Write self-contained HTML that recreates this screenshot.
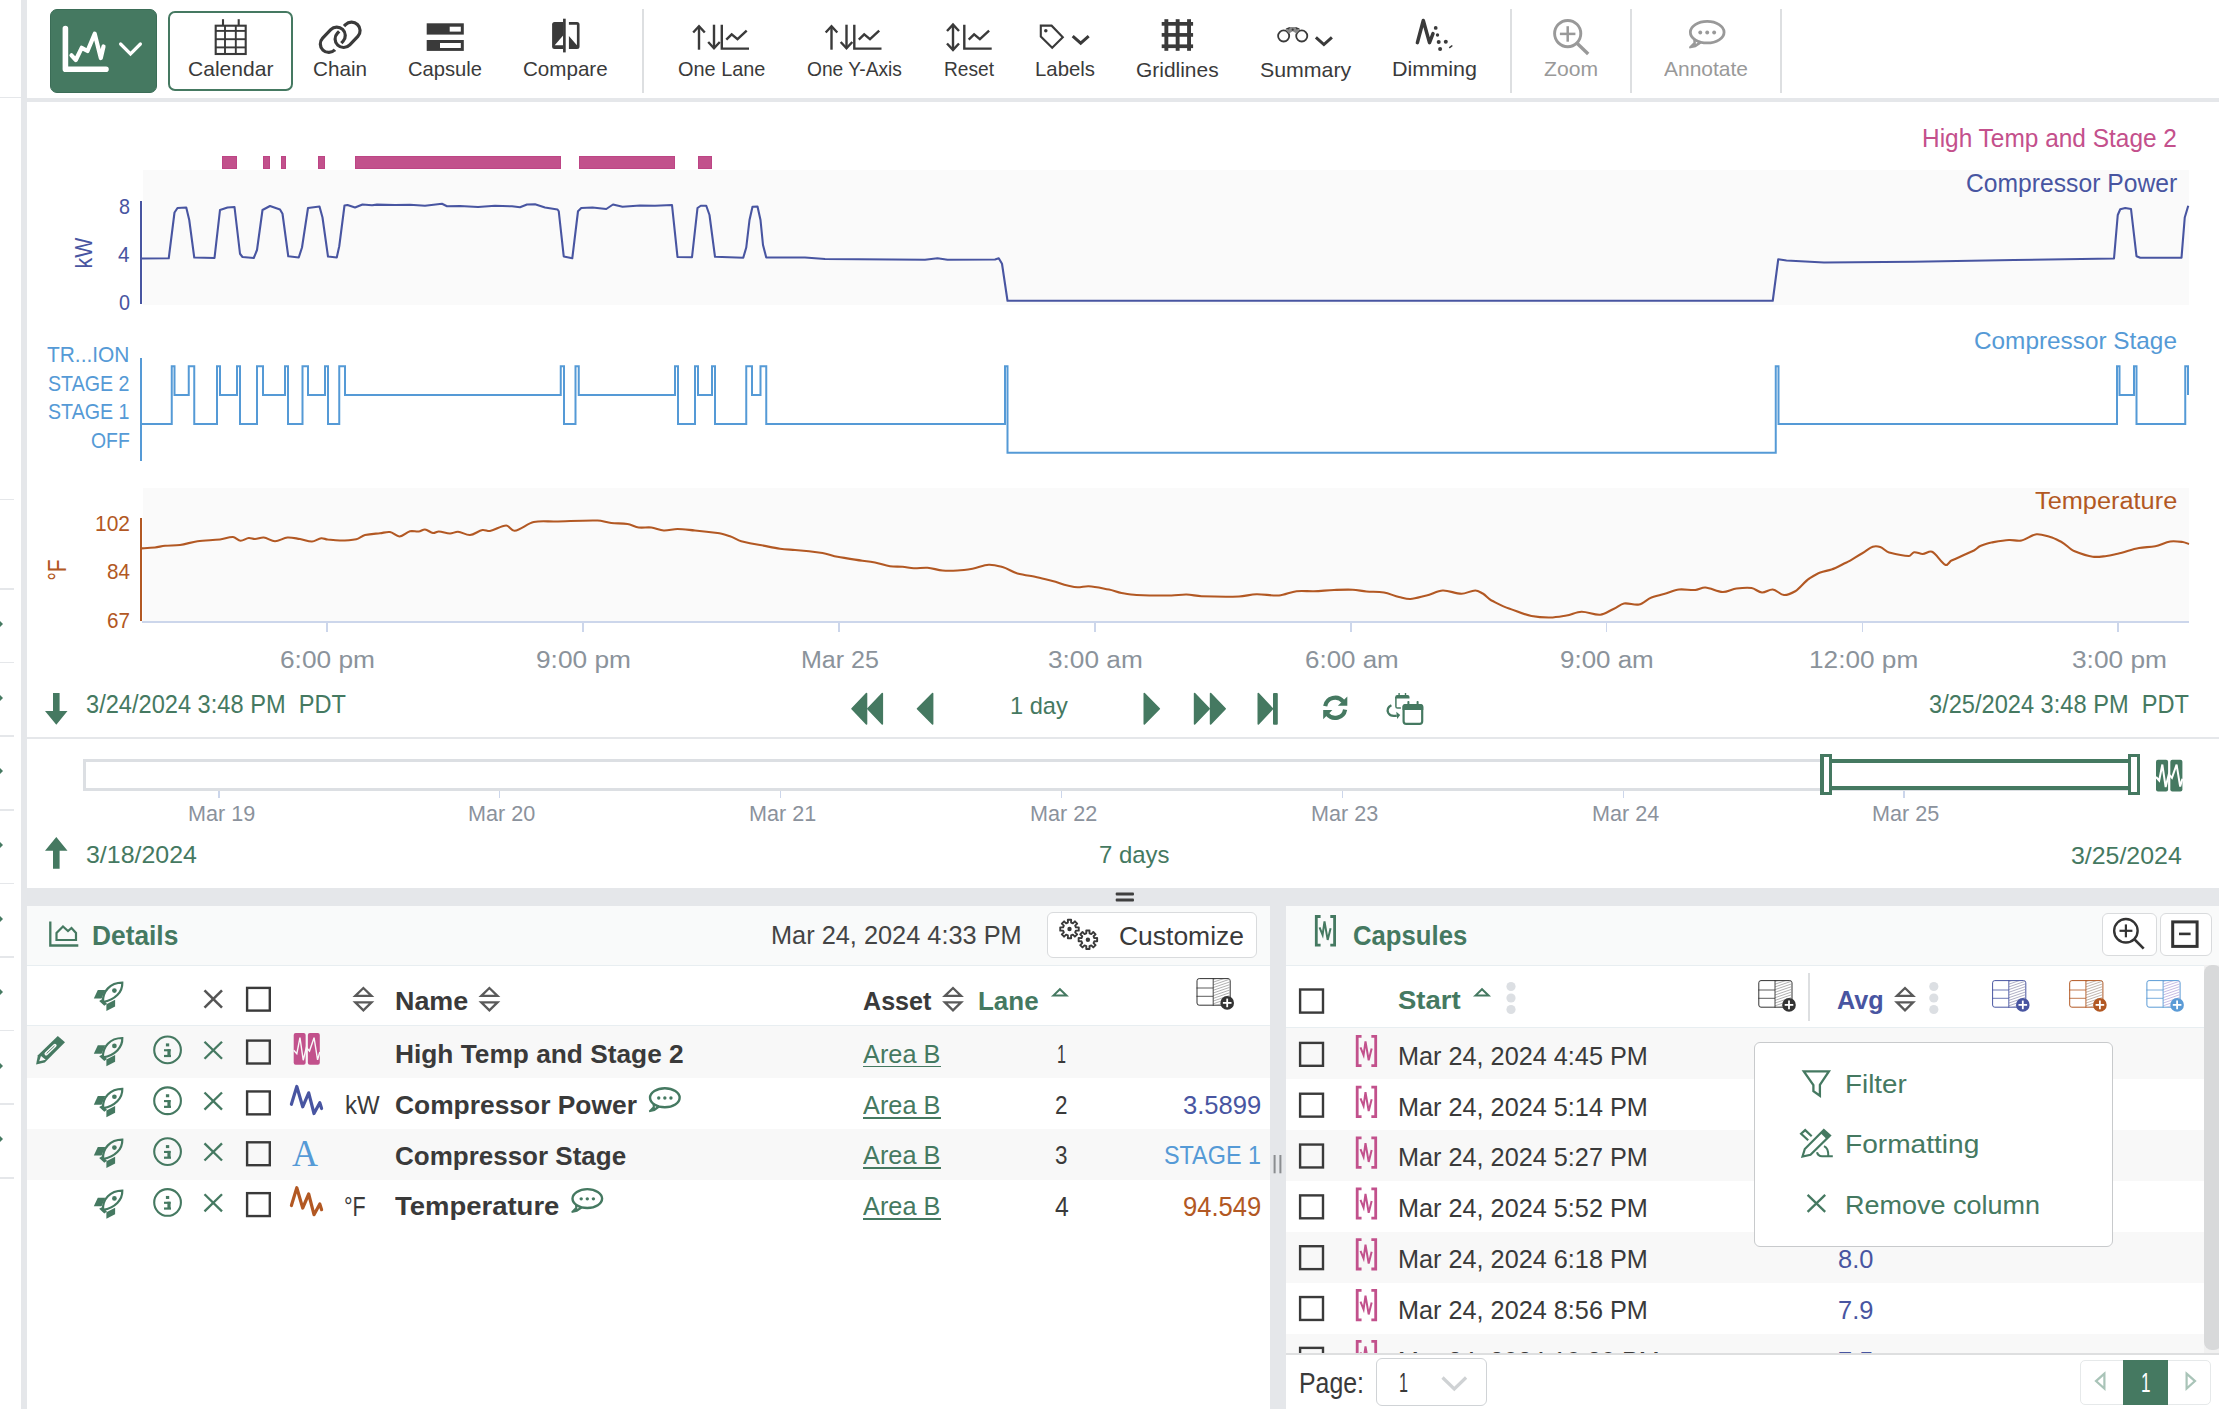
<!DOCTYPE html>
<html><head><meta charset="utf-8"><title>Trend</title>
<style>
html,body{margin:0;padding:0;background:#fff;overflow:hidden;}
body{width:2219px;height:1409px;position:relative;overflow:hidden;font-family:"Liberation Sans",sans-serif;}
.t{position:absolute;white-space:pre;line-height:1;transform-origin:0 0;display:block;}
.b{position:absolute;display:block;}
</style></head><body>
<div class="b" style="left:0.00px;top:96.60px;width:21.00px;height:1.80px;background:#e5e7ea;"></div>
<div class="b" style="left:0.00px;top:498.60px;width:14.00px;height:1.80px;background:#e5e7ea;"></div>
<div class="b" style="left:0.00px;top:588.10px;width:14.00px;height:1.80px;background:#e5e7ea;"></div>
<div class="b" style="left:0.00px;top:661.70px;width:14.00px;height:1.80px;background:#e5e7ea;"></div>
<div class="b" style="left:0.00px;top:735.30px;width:14.00px;height:1.80px;background:#e5e7ea;"></div>
<div class="b" style="left:0.00px;top:808.90px;width:14.00px;height:1.80px;background:#e5e7ea;"></div>
<div class="b" style="left:0.00px;top:882.50px;width:14.00px;height:1.80px;background:#e5e7ea;"></div>
<div class="b" style="left:0.00px;top:956.10px;width:14.00px;height:1.80px;background:#e5e7ea;"></div>
<div class="b" style="left:0.00px;top:1029.70px;width:14.00px;height:1.80px;background:#e5e7ea;"></div>
<div class="b" style="left:0.00px;top:1103.30px;width:14.00px;height:1.80px;background:#e5e7ea;"></div>
<div class="b" style="left:0.00px;top:1176.90px;width:14.00px;height:1.80px;background:#e5e7ea;"></div>
<svg class="b" style="left:0.00px;top:621.20px;" width="4.00" height="6.00" viewBox="0 0 4.00 6.00" preserveAspectRatio="none"><path d="M0 0 L3 3 L0 6 Z" fill="#457961"/></svg>
<svg class="b" style="left:0.00px;top:694.80px;" width="4.00" height="6.00" viewBox="0 0 4.00 6.00" preserveAspectRatio="none"><path d="M0 0 L3 3 L0 6 Z" fill="#457961"/></svg>
<svg class="b" style="left:0.00px;top:768.40px;" width="4.00" height="6.00" viewBox="0 0 4.00 6.00" preserveAspectRatio="none"><path d="M0 0 L3 3 L0 6 Z" fill="#457961"/></svg>
<svg class="b" style="left:0.00px;top:842.00px;" width="4.00" height="6.00" viewBox="0 0 4.00 6.00" preserveAspectRatio="none"><path d="M0 0 L3 3 L0 6 Z" fill="#457961"/></svg>
<svg class="b" style="left:0.00px;top:915.60px;" width="4.00" height="6.00" viewBox="0 0 4.00 6.00" preserveAspectRatio="none"><path d="M0 0 L3 3 L0 6 Z" fill="#457961"/></svg>
<svg class="b" style="left:0.00px;top:989.20px;" width="4.00" height="6.00" viewBox="0 0 4.00 6.00" preserveAspectRatio="none"><path d="M0 0 L3 3 L0 6 Z" fill="#457961"/></svg>
<svg class="b" style="left:0.00px;top:1062.80px;" width="4.00" height="6.00" viewBox="0 0 4.00 6.00" preserveAspectRatio="none"><path d="M0 0 L3 3 L0 6 Z" fill="#457961"/></svg>
<svg class="b" style="left:0.00px;top:1136.40px;" width="4.00" height="6.00" viewBox="0 0 4.00 6.00" preserveAspectRatio="none"><path d="M0 0 L3 3 L0 6 Z" fill="#457961"/></svg>
<div class="b" style="left:21.00px;top:0.00px;width:6.00px;height:1409.00px;background:#e5e7ea;"></div>
<div class="b" style="left:27.00px;top:98.00px;width:2192.00px;height:4.00px;background:#e5e7ea;"></div>
<div class="b" style="left:50.00px;top:9.00px;width:107.00px;height:84.00px;background:#457961;border:1px solid #3b6d57;box-sizing:border-box;border-radius:7px;"></div>
<div class="b" style="left:168.00px;top:11.00px;width:124.50px;height:80.00px;background:#fff;border:2px solid #457961;box-sizing:border-box;border-radius:7px;"></div>
<div class="b" style="left:642.05px;top:9.00px;width:1.50px;height:83.50px;background:#dddfe1;"></div>
<div class="b" style="left:1510.25px;top:9.00px;width:1.50px;height:83.50px;background:#dddfe1;"></div>
<div class="b" style="left:1630.25px;top:9.00px;width:1.50px;height:83.50px;background:#dddfe1;"></div>
<div class="b" style="left:1780.25px;top:9.00px;width:1.50px;height:83.50px;background:#dddfe1;"></div>
<span class="t" style="left:188.00px;top:59.13px;font-size:20.64px;color:#3a3a3a;font-weight:400;font-family:'Liberation Sans', sans-serif;transform:scaleX(1.0208);">Calendar</span>
<span class="t" style="left:313.00px;top:59.13px;font-size:20.64px;color:#3a3a3a;font-weight:400;font-family:'Liberation Sans', sans-serif;transform:scaleX(1.0013);">Chain</span>
<span class="t" style="left:408.00px;top:59.13px;font-size:20.64px;color:#3a3a3a;font-weight:400;font-family:'Liberation Sans', sans-serif;transform:scaleX(0.9772);">Capsule</span>
<span class="t" style="left:523.30px;top:59.13px;font-size:20.64px;color:#3a3a3a;font-weight:400;font-family:'Liberation Sans', sans-serif;transform:scaleX(0.9978);">Compare</span>
<span class="t" style="left:678.30px;top:59.13px;font-size:20.64px;color:#3a3a3a;font-weight:400;font-family:'Liberation Sans', sans-serif;transform:scaleX(0.9650);">One Lane</span>
<span class="t" style="left:807.00px;top:59.13px;font-size:20.64px;color:#3a3a3a;font-weight:400;font-family:'Liberation Sans', sans-serif;transform:scaleX(0.9304);">One Y-Axis</span>
<span class="t" style="left:943.70px;top:59.13px;font-size:20.64px;color:#3a3a3a;font-weight:400;font-family:'Liberation Sans', sans-serif;transform:scaleX(0.9275);">Reset</span>
<span class="t" style="left:1035.00px;top:59.13px;font-size:20.64px;color:#3a3a3a;font-weight:400;font-family:'Liberation Sans', sans-serif;transform:scaleX(0.9864);">Labels</span>
<span class="t" style="left:1136.00px;top:59.73px;font-size:20.64px;color:#3a3a3a;font-weight:400;font-family:'Liberation Sans', sans-serif;transform:scaleX(1.0154);">Gridlines</span>
<span class="t" style="left:1259.50px;top:59.73px;font-size:20.64px;color:#3a3a3a;font-weight:400;font-family:'Liberation Sans', sans-serif;transform:scaleX(1.0340);">Summary</span>
<span class="t" style="left:1392.00px;top:59.13px;font-size:20.64px;color:#3a3a3a;font-weight:400;font-family:'Liberation Sans', sans-serif;transform:scaleX(1.0439);">Dimming</span>
<span class="t" style="left:1544.00px;top:59.13px;font-size:20.64px;color:#999;font-weight:400;font-family:'Liberation Sans', sans-serif;transform:scaleX(1.0236);">Zoom</span>
<span class="t" style="left:1664.00px;top:59.13px;font-size:20.64px;color:#999;font-weight:400;font-family:'Liberation Sans', sans-serif;transform:scaleX(1.0167);">Annotate</span>
<div class="b" style="left:143.00px;top:170.30px;width:2046.00px;height:134.60px;background:#fafafa;"></div>
<div class="b" style="left:143.00px;top:487.50px;width:2046.00px;height:134.00px;background:#fafafa;"></div>
<div class="b" style="left:142.00px;top:621.20px;width:2047.00px;height:1.60px;background:#ccd6eb;"></div>
<div class="b" style="left:326.40px;top:622.00px;width:1.80px;height:10.00px;background:#ccd6eb;"></div>
<div class="b" style="left:582.25px;top:622.00px;width:1.80px;height:10.00px;background:#ccd6eb;"></div>
<div class="b" style="left:838.10px;top:622.00px;width:1.80px;height:10.00px;background:#ccd6eb;"></div>
<div class="b" style="left:1093.95px;top:622.00px;width:1.80px;height:10.00px;background:#ccd6eb;"></div>
<div class="b" style="left:1349.80px;top:622.00px;width:1.80px;height:10.00px;background:#ccd6eb;"></div>
<div class="b" style="left:1605.65px;top:622.00px;width:1.80px;height:10.00px;background:#ccd6eb;"></div>
<div class="b" style="left:1861.50px;top:622.00px;width:1.80px;height:10.00px;background:#ccd6eb;"></div>
<div class="b" style="left:2117.35px;top:622.00px;width:1.80px;height:10.00px;background:#ccd6eb;"></div>
<span class="t" style="left:280.00px;top:648.30px;font-size:23.98px;color:#8b939b;font-weight:400;font-family:'Liberation Sans', sans-serif;transform:scaleX(1.0964);">6:00 pm</span>
<span class="t" style="left:536.00px;top:648.30px;font-size:23.98px;color:#8b939b;font-weight:400;font-family:'Liberation Sans', sans-serif;transform:scaleX(1.0964);">9:00 pm</span>
<span class="t" style="left:801.25px;top:648.30px;font-size:23.98px;color:#8b939b;font-weight:400;font-family:'Liberation Sans', sans-serif;transform:scaleX(1.0451);">Mar 25</span>
<span class="t" style="left:1047.70px;top:648.30px;font-size:23.98px;color:#8b939b;font-weight:400;font-family:'Liberation Sans', sans-serif;transform:scaleX(1.0941);">3:00 am</span>
<span class="t" style="left:1304.50px;top:648.30px;font-size:23.98px;color:#8b939b;font-weight:400;font-family:'Liberation Sans', sans-serif;transform:scaleX(1.0820);">6:00 am</span>
<span class="t" style="left:1560.25px;top:648.30px;font-size:23.98px;color:#8b939b;font-weight:400;font-family:'Liberation Sans', sans-serif;transform:scaleX(1.0820);">9:00 am</span>
<span class="t" style="left:1809.00px;top:648.30px;font-size:23.98px;color:#8b939b;font-weight:400;font-family:'Liberation Sans', sans-serif;transform:scaleX(1.0927);">12:00 pm</span>
<span class="t" style="left:2071.50px;top:648.30px;font-size:23.98px;color:#8b939b;font-weight:400;font-family:'Liberation Sans', sans-serif;transform:scaleX(1.0964);">3:00 pm</span>
<div class="b" style="left:221.75px;top:156.00px;width:15.25px;height:13.00px;background:#c2518c;border:1px solid #bd4585;box-sizing:border-box;"></div>
<div class="b" style="left:262.50px;top:156.00px;width:7.50px;height:13.00px;background:#c2518c;border:1px solid #bd4585;box-sizing:border-box;"></div>
<div class="b" style="left:281.25px;top:156.00px;width:4.25px;height:13.00px;background:#c2518c;border:1px solid #bd4585;box-sizing:border-box;"></div>
<div class="b" style="left:318.00px;top:156.00px;width:7.00px;height:13.00px;background:#c2518c;border:1px solid #bd4585;box-sizing:border-box;"></div>
<div class="b" style="left:355.00px;top:156.00px;width:205.75px;height:13.00px;background:#c2518c;border:1px solid #bd4585;box-sizing:border-box;"></div>
<div class="b" style="left:578.60px;top:156.00px;width:96.40px;height:13.00px;background:#c2518c;border:1px solid #bd4585;box-sizing:border-box;"></div>
<div class="b" style="left:697.50px;top:156.00px;width:14.50px;height:13.00px;background:#c2518c;border:1px solid #bd4585;box-sizing:border-box;"></div>
<span class="t" style="left:1922.00px;top:125.20px;font-size:26.16px;color:#c4508c;font-weight:400;font-family:'Liberation Sans', sans-serif;transform:scaleX(0.9342);">High Temp and Stage 2</span>
<span class="t" style="left:1965.75px;top:171.13px;font-size:25.07px;color:#4855a1;font-weight:400;font-family:'Liberation Sans', sans-serif;transform:scaleX(0.9845);">Compressor Power</span>
<span class="t" style="left:1974.00px;top:329.18px;font-size:24.71px;color:#559ad6;font-weight:400;font-family:'Liberation Sans', sans-serif;transform:scaleX(0.9854);">Compressor Stage</span>
<span class="t" style="left:2034.75px;top:488.74px;font-size:24.35px;color:#b25823;font-weight:400;font-family:'Liberation Sans', sans-serif;transform:scaleX(1.0408);">Temperature</span>
<div class="b" style="left:139.60px;top:200.50px;width:2.00px;height:103.25px;background:#4855a1;"></div>
<div class="b" style="left:139.60px;top:358.00px;width:2.00px;height:103.25px;background:#559ad6;"></div>
<div class="b" style="left:139.60px;top:517.50px;width:2.00px;height:103.75px;background:#b25823;"></div>
<span class="t" style="left:118.50px;top:195.50px;font-size:22.09px;color:#4855a1;font-weight:400;font-family:'Liberation Sans', sans-serif;transform:scaleX(0.8955);">8</span>
<span class="t" style="left:118.00px;top:243.50px;font-size:22.09px;color:#4855a1;font-weight:400;font-family:'Liberation Sans', sans-serif;transform:scaleX(0.9362);">4</span>
<span class="t" style="left:118.50px;top:291.80px;font-size:22.09px;color:#4855a1;font-weight:400;font-family:'Liberation Sans', sans-serif;transform:scaleX(0.8955);">0</span>
<span class="t" style="left:47.00px;top:344.03px;font-size:22.53px;color:#559ad6;font-weight:400;font-family:'Liberation Sans', sans-serif;transform:scaleX(0.9285);">TR...ION</span>
<span class="t" style="left:48.00px;top:373.28px;font-size:22.53px;color:#559ad6;font-weight:400;font-family:'Liberation Sans', sans-serif;transform:scaleX(0.8719);">STAGE 2</span>
<span class="t" style="left:48.00px;top:400.89px;font-size:21.80px;color:#559ad6;font-weight:400;font-family:'Liberation Sans', sans-serif;transform:scaleX(0.9010);">STAGE 1</span>
<span class="t" style="left:90.75px;top:429.64px;font-size:21.80px;color:#559ad6;font-weight:400;font-family:'Liberation Sans', sans-serif;transform:scaleX(0.8887);">OFF</span>
<span class="t" style="left:94.50px;top:513.39px;font-size:21.80px;color:#b25823;font-weight:400;font-family:'Liberation Sans', sans-serif;transform:scaleX(0.9624);">102</span>
<span class="t" style="left:106.50px;top:560.89px;font-size:21.80px;color:#b25823;font-weight:400;font-family:'Liberation Sans', sans-serif;transform:scaleX(0.9487);">84</span>
<span class="t" style="left:106.50px;top:609.64px;font-size:21.80px;color:#b25823;font-weight:400;font-family:'Liberation Sans', sans-serif;transform:scaleX(0.9487);">67</span>
<svg class="b" style="left:52.5px;top:222.5px" width="60" height="60"><text x="0" y="0" transform="translate(30,30) rotate(-90) scale(0.95,1.1)" text-anchor="middle" font-family="Liberation Sans, sans-serif" font-size="22.5" fill="#4855a1" dy="0.36em">kW</text></svg>
<svg class="b" style="left:27.2px;top:540.2px" width="60" height="60"><text x="0" y="0" transform="translate(30,30) rotate(-90) scale(0.93,1.16)" text-anchor="middle" font-family="Liberation Sans, sans-serif" font-size="22.5" fill="#b25823" dy="0.36em">°F</text></svg>
<svg class="b" style="left:0.00px;top:150.00px;" width="2219.00" height="180.00" viewBox="0 0 2219 180" preserveAspectRatio="none"><path d="M142.00 108.50 L168.75 108.30 L174.50 62.50 L177.50 58.00 L186.25 57.50 L189.25 70.00 L194.25 107.50 L214.50 108.00 L220.00 60.00 L227.50 57.50 L234.50 57.00 L240.00 103.75 L242.50 107.00 L253.75 108.00 L257.00 100.00 L262.50 60.00 L270.00 56.00 L280.00 59.50 L282.50 63.75 L288.25 106.25 L298.75 107.50 L302.00 97.50 L308.00 58.00 L319.50 56.50 L322.50 67.50 L328.00 106.50 L336.75 107.50 L339.25 96.25 L344.50 55.50 L347.50 55.00 L355.00 57.50 L362.50 54.50 L372.00 55.30 L377.00 54.60 L395.00 55.00 L410.00 54.70 L425.00 55.80 L442.00 53.80 L447.00 56.20 L460.00 56.00 L478.00 57.00 L495.00 55.80 L512.00 56.30 L520.00 57.20 L527.00 54.50 L535.00 54.30 L545.00 57.50 L557.50 59.50 L558.75 61.25 L563.75 106.50 L572.30 108.20 L578.00 61.25 L581.25 58.00 L592.50 57.50 L606.25 59.00 L613.00 54.50 L622.50 56.75 L640.00 55.50 L655.00 55.75 L672.00 55.00 L677.50 107.00 L692.00 107.25 L697.50 58.00 L700.75 55.75 L706.25 55.75 L709.50 65.00 L715.00 106.75 L743.25 107.75 L746.25 97.50 L749.50 70.00 L752.50 56.75 L757.50 56.50 L760.50 70.00 L763.00 95.00 L766.25 107.50 L805.00 107.50 L825.00 109.00 L925.00 109.75 L937.50 108.25 L947.50 109.75 L995.00 109.50 L998.75 108.25 L1002.00 113.75 L1007.50 150.75 L1772.75 150.75 L1778.25 109.25 L1786.50 110.50 L1824.00 112.50 L1914.00 111.75 L2014.00 110.00 L2114.00 108.50 L2117.75 65.00 L2120.25 59.25 L2125.25 58.00 L2131.00 59.00 L2136.50 106.25 L2140.25 107.75 L2181.50 107.75 L2184.75 67.50 L2188.25 55.75" fill="none" stroke="#4855a1" stroke-width="2.1" stroke-linejoin="round" stroke-linecap="butt"/></svg>
<svg class="b" style="left:0.00px;top:340.00px;" width="2219.00" height="140.00" viewBox="0 0 2219 140" preserveAspectRatio="none"><path d="M142.00 84.00 L171.75 84.00 L171.75 26.25 L174.50 26.25 L174.50 54.90 L188.75 54.90 L188.75 26.25 L194.25 26.25 L194.25 84.00 L217.00 84.00 L217.00 26.25 L220.00 26.25 L220.00 54.90 L237.00 54.90 L237.00 26.25 L240.00 26.25 L240.00 84.00 L257.00 84.00 L257.00 26.25 L263.00 26.25 L263.00 54.90 L285.00 54.90 L285.00 26.25 L288.00 26.25 L288.00 84.00 L302.50 84.00 L302.50 26.25 L308.00 26.25 L308.00 54.90 L325.00 54.90 L325.00 26.25 L328.00 26.25 L328.00 84.00 L339.25 84.00 L339.25 26.25 L345.00 26.25 L345.00 54.90 L560.75 54.90 L560.75 26.25 L564.00 26.25 L564.00 84.00 L575.50 84.00 L575.50 26.25 L578.75 26.25 L578.75 54.90 L675.00 54.90 L675.00 26.25 L678.00 26.25 L678.00 84.00 L695.00 84.00 L695.00 26.25 L698.00 26.25 L698.00 54.90 L712.00 54.90 L712.00 26.25 L715.00 26.25 L715.00 84.00 L746.25 84.00 L746.25 26.25 L752.00 26.25 L752.00 54.90 L760.50 54.90 L760.50 26.25 L766.25 26.25 L766.25 84.00 L1005.00 84.00 L1005.00 26.25 L1007.50 26.25 L1007.50 112.70 L1775.75 112.70 L1775.75 26.25 L1778.50 26.25 L1778.50 84.00 L2117.00 84.00 L2117.00 26.25 L2119.50 26.25 L2119.50 54.90 L2134.00 54.90 L2134.00 26.25 L2136.50 26.25 L2136.50 84.00 L2185.25 84.00 L2185.25 26.25 L2188.00 26.25 L2188.00 54.90" fill="none" stroke="#559ad6" stroke-width="2.0" stroke-linejoin="miter" stroke-linecap="butt"/></svg>
<svg class="b" style="left:0.00px;top:500.00px;" width="2219.00" height="140.00" viewBox="0 0 2219 140" preserveAspectRatio="none"><path d="M142.00 48.40 C146.33 48.14 150.67 47.92 155.00 47.50 C158.33 47.17 161.67 46.03 165.00 45.75 C170.00 45.33 175.00 45.59 180.00 45.00 C185.83 44.31 191.67 41.93 197.50 41.25 C205.00 40.37 212.50 40.26 220.00 39.50 C224.33 39.06 228.67 36.78 233.00 37.00 C235.50 37.13 238.00 40.62 240.50 40.75 C243.25 40.90 246.00 38.28 248.75 38.00 C250.83 37.79 252.92 39.06 255.00 39.00 C257.92 38.92 260.83 37.22 263.75 37.50 C267.50 37.86 271.25 41.25 275.00 41.25 C279.17 41.25 283.33 37.82 287.50 37.50 C291.67 37.18 295.83 38.42 300.00 39.00 C304.00 39.56 308.00 41.62 312.00 41.50 C315.08 41.41 318.17 38.59 321.25 38.25 C323.33 38.02 325.42 39.29 327.50 39.50 C331.67 39.92 335.83 40.53 340.00 40.50 C345.42 40.46 350.83 40.26 356.25 39.25 C359.17 38.70 362.08 35.63 365.00 35.00 C370.00 33.93 375.00 33.76 380.00 33.25 C383.33 32.91 386.67 31.53 390.00 32.00 C393.17 32.45 396.33 36.60 399.50 36.50 C403.00 36.39 406.50 32.02 410.00 31.25 C412.92 30.61 415.83 31.79 418.75 31.50 C420.83 31.29 422.92 29.31 425.00 29.50 C427.67 29.74 430.33 32.67 433.00 33.00 C434.92 33.24 436.83 31.45 438.75 31.50 C442.50 31.59 446.25 33.46 450.00 33.50 C452.67 33.53 455.33 31.58 458.00 31.75 C462.00 32.01 466.00 35.24 470.00 35.00 C474.17 34.75 478.33 30.71 482.50 30.00 C485.00 29.57 487.50 31.40 490.00 31.00 C495.42 30.13 500.83 25.55 506.25 25.50 C509.00 25.48 511.75 31.05 514.50 30.75 C520.92 30.06 527.33 23.25 533.75 22.00 C540.83 20.62 547.92 21.64 555.00 21.50 C569.17 21.22 583.33 20.18 597.50 20.50 C602.08 20.60 606.67 22.55 611.25 23.00 C616.67 23.54 622.08 23.25 627.50 24.00 C631.25 24.52 635.00 27.03 638.75 27.50 C642.92 28.02 647.08 27.07 651.25 27.50 C655.42 27.93 659.58 30.30 663.75 30.50 C668.33 30.72 672.92 29.00 677.50 29.00 C683.33 29.00 689.17 30.00 695.00 30.50 C702.50 31.14 710.00 31.95 717.50 33.00 C721.67 33.58 725.83 35.02 730.00 36.25 C733.75 37.36 737.50 40.32 741.25 41.25 C747.50 42.80 753.75 43.97 760.00 45.00 C766.67 46.10 773.33 47.94 780.00 48.75 C785.00 49.36 790.00 49.58 795.00 50.00 C804.17 50.78 813.33 51.76 822.50 53.00 C827.50 53.67 832.50 55.93 837.50 56.75 C845.83 58.12 854.17 59.66 862.50 60.75 C866.67 61.29 870.83 61.79 875.00 62.50 C880.00 63.35 885.00 65.59 890.00 66.25 C894.17 66.80 898.33 66.45 902.50 66.75 C906.25 67.02 910.00 68.12 913.75 68.25 C918.33 68.41 922.92 67.45 927.50 67.75 C932.50 68.08 937.50 70.11 942.50 70.50 C947.50 70.89 952.50 70.75 957.50 70.50 C962.50 70.25 967.50 69.53 972.50 68.75 C977.92 67.90 983.33 65.02 988.75 64.75 C993.33 64.52 997.92 65.81 1002.50 67.00 C1007.50 68.29 1012.50 72.22 1017.50 73.50 C1023.33 74.99 1029.17 75.69 1035.00 76.75 C1040.83 77.81 1046.67 79.67 1052.50 81.00 C1057.50 82.14 1062.50 84.44 1067.50 85.50 C1070.83 86.21 1074.17 87.15 1077.50 87.25 C1081.25 87.36 1085.00 86.02 1088.75 86.25 C1095.50 86.66 1102.25 88.32 1109.00 89.50 C1113.17 90.23 1117.33 92.29 1121.50 93.00 C1126.50 93.85 1131.50 94.79 1136.50 95.00 C1148.17 95.50 1159.83 95.60 1171.50 95.50 C1176.50 95.46 1181.50 94.39 1186.50 94.50 C1191.50 94.61 1196.50 96.09 1201.50 96.25 C1214.00 96.65 1226.50 96.89 1239.00 96.50 C1244.83 96.32 1250.67 94.37 1256.50 94.25 C1264.00 94.09 1271.50 95.98 1279.00 95.50 C1284.83 95.13 1290.67 91.85 1296.50 91.25 C1302.33 90.65 1308.17 91.42 1314.00 91.25 C1320.67 91.06 1327.33 90.22 1334.00 90.00 C1340.25 89.79 1346.50 89.50 1352.75 89.75 C1357.33 89.93 1361.92 91.16 1366.50 91.50 C1372.33 91.94 1378.17 91.66 1384.00 92.50 C1389.00 93.22 1394.00 95.95 1399.00 97.00 C1402.75 97.79 1406.50 99.17 1410.25 99.00 C1415.67 98.75 1421.08 96.70 1426.50 95.50 C1431.92 94.30 1437.33 90.73 1442.75 90.50 C1449.00 90.23 1455.25 93.75 1461.50 93.75 C1466.08 93.75 1470.67 90.55 1475.25 90.50 C1477.75 90.47 1480.25 92.19 1482.75 93.50 C1485.67 95.03 1488.58 99.08 1491.50 100.50 C1497.33 103.33 1503.17 106.58 1509.00 108.50 C1516.50 110.97 1524.00 114.61 1531.50 116.00 C1537.75 117.16 1544.00 117.58 1550.25 117.50 C1555.67 117.43 1561.08 116.35 1566.50 115.50 C1571.50 114.72 1576.50 111.84 1581.50 111.75 C1587.75 111.63 1594.00 115.24 1600.25 114.75 C1604.83 114.39 1609.42 110.60 1614.00 108.75 C1617.33 107.41 1620.67 103.98 1624.00 103.50 C1629.00 102.78 1634.00 105.43 1639.00 104.50 C1643.17 103.73 1647.33 98.99 1651.50 97.50 C1655.67 96.01 1659.83 95.03 1664.00 94.00 C1669.00 92.76 1674.00 90.04 1679.00 89.50 C1684.42 88.91 1689.83 90.35 1695.25 90.00 C1698.58 89.78 1701.92 87.29 1705.25 87.50 C1711.08 87.86 1716.92 91.84 1722.75 92.00 C1727.33 92.12 1731.92 89.04 1736.50 88.50 C1741.50 87.91 1746.50 87.33 1751.50 88.00 C1755.00 88.47 1758.50 92.29 1762.00 92.50 C1765.58 92.72 1769.17 89.15 1772.75 89.50 C1776.50 89.86 1780.25 94.75 1784.00 95.00 C1787.75 95.25 1791.50 93.32 1795.25 91.25 C1799.83 88.72 1804.42 81.67 1809.00 78.75 C1812.75 76.36 1816.50 73.81 1820.25 72.50 C1824.00 71.19 1827.75 70.71 1831.50 69.50 C1836.50 67.88 1841.50 64.74 1846.50 62.50 C1851.92 60.07 1857.33 55.76 1862.75 53.00 C1866.08 51.30 1869.42 47.72 1872.75 46.75 C1875.25 46.02 1877.75 46.25 1880.25 47.00 C1883.17 47.88 1886.08 51.72 1889.00 52.50 C1895.67 54.27 1902.33 56.06 1909.00 56.00 C1910.67 55.99 1912.33 52.46 1914.00 52.25 C1916.92 51.89 1919.83 54.07 1922.75 54.00 C1925.83 53.93 1928.92 50.50 1932.00 51.75 C1936.58 53.61 1941.17 63.25 1945.75 65.00 C1947.67 65.73 1949.58 61.34 1951.50 60.50 C1959.00 57.23 1966.50 53.72 1974.00 50.50 C1976.08 49.61 1978.17 46.81 1980.25 46.00 C1984.00 44.54 1987.75 43.17 1991.50 42.50 C1997.33 41.47 2003.17 40.33 2009.00 40.00 C2013.17 39.76 2017.33 41.24 2021.50 40.50 C2026.50 39.61 2031.50 34.77 2036.50 34.25 C2041.08 33.78 2045.67 35.79 2050.25 37.00 C2054.00 37.99 2057.75 40.12 2061.50 42.00 C2065.67 44.09 2069.83 49.33 2074.00 51.00 C2080.25 53.51 2086.50 55.93 2092.75 56.75 C2097.33 57.35 2101.92 56.47 2106.50 56.00 C2110.25 55.62 2114.00 54.53 2117.75 53.75 C2124.83 52.27 2131.92 49.20 2139.00 48.00 C2144.42 47.08 2149.83 47.21 2155.25 46.25 C2160.25 45.37 2165.25 42.16 2170.25 41.50 C2174.42 40.95 2178.58 41.53 2182.75 42.00 C2184.83 42.24 2186.92 43.43 2189.00 44.00" fill="none" stroke="#b25823" stroke-width="2.1" stroke-linejoin="round"/></svg>
<span class="t" style="left:85.80px;top:693.36px;font-size:24.85px;color:#457961;font-weight:400;font-family:'Liberation Sans', sans-serif;transform:scaleX(0.9505);">3/24/2024 3:48 PM  PDT</span>
<span class="t" style="left:1928.50px;top:693.36px;font-size:24.85px;color:#457961;font-weight:400;font-family:'Liberation Sans', sans-serif;transform:scaleX(0.9505);">3/25/2024 3:48 PM  PDT</span>
<span class="t" style="left:1009.70px;top:694.91px;font-size:23.26px;color:#457961;font-weight:400;font-family:'Liberation Sans', sans-serif;transform:scaleX(1.0161);">1 day</span>
<div class="b" style="left:27.00px;top:737.00px;width:2192.00px;height:2.00px;background:#e5e7ea;"></div>
<div class="b" style="left:83.00px;top:759.00px;width:2057.00px;height:31.50px;border:3.7px solid #dcdfe3;box-sizing:border-box;"></div>
<div class="b" style="left:218.05px;top:790.50px;width:1.50px;height:7.00px;background:#ccd6eb;"></div>
<div class="b" style="left:498.95px;top:790.50px;width:1.50px;height:7.00px;background:#ccd6eb;"></div>
<div class="b" style="left:779.85px;top:790.50px;width:1.50px;height:7.00px;background:#ccd6eb;"></div>
<div class="b" style="left:1060.75px;top:790.50px;width:1.50px;height:7.00px;background:#ccd6eb;"></div>
<div class="b" style="left:1341.65px;top:790.50px;width:1.50px;height:7.00px;background:#ccd6eb;"></div>
<div class="b" style="left:1622.55px;top:790.50px;width:1.50px;height:7.00px;background:#ccd6eb;"></div>
<div class="b" style="left:1903.45px;top:790.50px;width:1.50px;height:7.00px;background:#ccd6eb;"></div>
<span class="t" style="left:187.50px;top:803.35px;font-size:22.38px;color:#8b929c;font-weight:400;font-family:'Liberation Sans', sans-serif;transform:scaleX(0.9647);">Mar 19</span>
<span class="t" style="left:468.30px;top:803.35px;font-size:22.38px;color:#8b929c;font-weight:400;font-family:'Liberation Sans', sans-serif;transform:scaleX(0.9647);">Mar 20</span>
<span class="t" style="left:749.10px;top:803.35px;font-size:22.38px;color:#8b929c;font-weight:400;font-family:'Liberation Sans', sans-serif;transform:scaleX(0.9647);">Mar 21</span>
<span class="t" style="left:1029.90px;top:803.35px;font-size:22.38px;color:#8b929c;font-weight:400;font-family:'Liberation Sans', sans-serif;transform:scaleX(0.9647);">Mar 22</span>
<span class="t" style="left:1310.70px;top:803.35px;font-size:22.38px;color:#8b929c;font-weight:400;font-family:'Liberation Sans', sans-serif;transform:scaleX(0.9647);">Mar 23</span>
<span class="t" style="left:1591.50px;top:803.35px;font-size:22.38px;color:#8b929c;font-weight:400;font-family:'Liberation Sans', sans-serif;transform:scaleX(0.9647);">Mar 24</span>
<span class="t" style="left:1872.30px;top:803.35px;font-size:22.38px;color:#8b929c;font-weight:400;font-family:'Liberation Sans', sans-serif;transform:scaleX(0.9647);">Mar 25</span>
<div class="b" style="left:1826.00px;top:759.00px;width:308.00px;height:31.00px;border:4px solid #457961;box-sizing:border-box;"></div>
<div class="b" style="left:1820.40px;top:754.20px;width:11.30px;height:40.60px;background:#fff;border:3.6px solid #457961;box-sizing:border-box;border-left-width:4px;border-right-width:3.6px;"></div>
<div class="b" style="left:2127.60px;top:754.20px;width:12.30px;height:40.60px;background:#fff;border:3.6px solid #457961;box-sizing:border-box;"></div>
<span class="t" style="left:85.80px;top:843.38px;font-size:24.71px;color:#457961;font-weight:400;font-family:'Liberation Sans', sans-serif;transform:scaleX(1.0088);">3/18/2024</span>
<span class="t" style="left:1098.50px;top:843.38px;font-size:24.71px;color:#457961;font-weight:400;font-family:'Liberation Sans', sans-serif;transform:scaleX(0.9685);">7 days</span>
<span class="t" style="left:2071.00px;top:843.75px;font-size:24.27px;color:#457961;font-weight:400;font-family:'Liberation Sans', sans-serif;transform:scaleX(1.0260);">3/25/2024</span>
<div class="b" style="left:27.00px;top:887.80px;width:2192.00px;height:18.20px;background:#e5e7ea;"></div>
<div class="b" style="left:1270.00px;top:906.00px;width:16.00px;height:503.00px;background:#e5e7ea;"></div>
<div class="b" style="left:27.00px;top:906.00px;width:1243.00px;height:59.00px;background:#f9fafa;"></div>
<div class="b" style="left:27.00px;top:964.50px;width:1243.00px;height:1.50px;background:#e8eef1;"></div>
<div class="b" style="left:27.00px;top:1025.00px;width:1243.00px;height:1.30px;background:#e8eef1;"></div>
<div class="b" style="left:27.00px;top:1026.30px;width:1243.00px;height:51.40px;background:#f8f8f8;"></div>
<div class="b" style="left:27.00px;top:1129.00px;width:1243.00px;height:51.00px;background:#f8f8f8;"></div>
<span class="t" style="left:91.70px;top:922.05px;font-size:27.47px;color:#457961;font-weight:700;font-family:'Liberation Sans', sans-serif;transform:scaleX(0.9581);">Details</span>
<span class="t" style="left:771.00px;top:923.25px;font-size:25.58px;color:#444;font-weight:400;font-family:'Liberation Sans', sans-serif;transform:scaleX(0.9904);">Mar 24, 2024 4:33 PM</span>
<div class="b" style="left:1046.70px;top:912.30px;width:210.60px;height:46.00px;background:#fff;border:1.3px solid #d9dbdd;box-sizing:border-box;border-radius:6px;"></div>
<span class="t" style="left:1119.00px;top:923.08px;font-size:26.60px;color:#3a3a3a;font-weight:400;font-family:'Liberation Sans', sans-serif;transform:scaleX(0.9948);">Customize</span>
<span class="t" style="left:395.00px;top:988.14px;font-size:26.24px;color:#3a3a3a;font-weight:700;font-family:'Liberation Sans', sans-serif;transform:scaleX(1.0243);">Name</span>
<span class="t" style="left:863.30px;top:988.14px;font-size:26.24px;color:#3a3a3a;font-weight:700;font-family:'Liberation Sans', sans-serif;transform:scaleX(0.9571);">Asset</span>
<span class="t" style="left:977.70px;top:988.14px;font-size:26.24px;color:#457961;font-weight:700;font-family:'Liberation Sans', sans-serif;transform:scaleX(0.9897);">Lane</span>
<span class="t" style="left:395.00px;top:1040.93px;font-size:26.31px;color:#3a3a3a;font-weight:700;font-family:'Liberation Sans', sans-serif;transform:scaleX(0.9995);">High Temp and Stage 2</span>
<span class="t" style="left:863.30px;top:1040.81px;font-size:26.45px;color:#457961;font-weight:400;font-family:'Liberation Sans', sans-serif;transform:scaleX(0.9571);">Area B</span>
<div class="b" style="left:863.30px;top:1065.80px;width:77.40px;height:1.70px;background:#457961;"></div>
<span class="t" style="left:395.00px;top:1092.33px;font-size:26.31px;color:#3a3a3a;font-weight:700;font-family:'Liberation Sans', sans-serif;transform:scaleX(1.0032);">Compressor Power</span>
<span class="t" style="left:863.30px;top:1092.21px;font-size:26.45px;color:#457961;font-weight:400;font-family:'Liberation Sans', sans-serif;transform:scaleX(0.9571);">Area B</span>
<div class="b" style="left:863.30px;top:1117.20px;width:77.40px;height:1.70px;background:#457961;"></div>
<span class="t" style="left:395.00px;top:1142.53px;font-size:26.31px;color:#3a3a3a;font-weight:700;font-family:'Liberation Sans', sans-serif;transform:scaleX(0.9883);">Compressor Stage</span>
<span class="t" style="left:863.30px;top:1142.41px;font-size:26.45px;color:#457961;font-weight:400;font-family:'Liberation Sans', sans-serif;transform:scaleX(0.9571);">Area B</span>
<div class="b" style="left:863.30px;top:1167.40px;width:77.40px;height:1.70px;background:#457961;"></div>
<span class="t" style="left:395.00px;top:1193.33px;font-size:26.31px;color:#3a3a3a;font-weight:700;font-family:'Liberation Sans', sans-serif;transform:scaleX(1.0445);">Temperature</span>
<span class="t" style="left:863.30px;top:1193.21px;font-size:26.45px;color:#457961;font-weight:400;font-family:'Liberation Sans', sans-serif;transform:scaleX(0.9571);">Area B</span>
<div class="b" style="left:863.30px;top:1218.20px;width:77.40px;height:1.70px;background:#457961;"></div>
<span class="t" style="left:1056.50px;top:1041.05px;font-size:26.16px;color:#3a3a3a;font-weight:400;font-family:'Liberation Sans', sans-serif;transform:scaleX(0.6187);">1</span>
<span class="t" style="left:1055.00px;top:1092.21px;font-size:26.45px;color:#3a3a3a;font-weight:400;font-family:'Liberation Sans', sans-serif;transform:scaleX(0.8499);">2</span>
<span class="t" style="left:1055.00px;top:1142.41px;font-size:26.45px;color:#3a3a3a;font-weight:400;font-family:'Liberation Sans', sans-serif;transform:scaleX(0.8499);">3</span>
<span class="t" style="left:1054.50px;top:1192.59px;font-size:27.18px;color:#3a3a3a;font-weight:400;font-family:'Liberation Sans', sans-serif;transform:scaleX(0.9132);">4</span>
<span class="t" style="left:344.90px;top:1092.21px;font-size:26.45px;color:#3a3a3a;font-weight:400;font-family:'Liberation Sans', sans-serif;transform:scaleX(0.9058);">kW</span>
<span class="t" style="left:344.30px;top:1192.59px;font-size:27.18px;color:#3a3a3a;font-weight:400;font-family:'Liberation Sans', sans-serif;transform:scaleX(0.7897);">°F</span>
<span class="t" style="left:1182.70px;top:1092.21px;font-size:26.45px;color:#4855a1;font-weight:400;font-family:'Liberation Sans', sans-serif;transform:scaleX(0.9676);">3.5899</span>
<span class="t" style="left:1164.00px;top:1142.41px;font-size:26.45px;color:#559ad6;font-weight:400;font-family:'Liberation Sans', sans-serif;transform:scaleX(0.8838);">STAGE 1</span>
<span class="t" style="left:1182.70px;top:1192.59px;font-size:27.18px;color:#b25823;font-weight:400;font-family:'Liberation Sans', sans-serif;transform:scaleX(0.9417);">94.549</span>
<span class="t" style="left:292.00px;top:1134.83px;font-size:37.10px;color:#559ad6;font-weight:400;font-family:'Liberation Serif', serif;transform:scaleX(0.9707);">A</span>
<div class="b" style="left:1286.00px;top:906.00px;width:933.00px;height:59.00px;background:#f9fafa;"></div>
<div class="b" style="left:1286.00px;top:964.50px;width:918.00px;height:1.50px;background:#e8eef1;"></div>
<div class="b" style="left:1286.00px;top:966.00px;width:918.00px;height:61.00px;background:#fff;"></div>
<div class="b" style="left:1286.00px;top:1027.00px;width:918.00px;height:1.30px;background:#e8eef1;"></div>
<div class="b" style="left:1286.00px;top:1028.40px;width:918.00px;height:51.00px;background:#f8f8f8;"></div>
<div class="b" style="left:1286.00px;top:1130.40px;width:918.00px;height:51.00px;background:#f8f8f8;"></div>
<div class="b" style="left:1286.00px;top:1232.40px;width:918.00px;height:51.00px;background:#f8f8f8;"></div>
<div class="b" style="left:1286.00px;top:1334.40px;width:918.00px;height:18.60px;background:#f8f8f8;"></div>
<span class="t" style="left:1352.70px;top:922.05px;font-size:27.47px;color:#457961;font-weight:700;font-family:'Liberation Sans', sans-serif;transform:scaleX(0.9358);">Capsules</span>
<div class="b" style="left:2101.70px;top:913.30px;width:55.00px;height:42.40px;background:#fff;border:1.3px solid #d9dbdd;box-sizing:border-box;border-radius:6px;"></div>
<div class="b" style="left:2160.00px;top:913.30px;width:51.70px;height:42.40px;background:#fff;border:1.3px solid #d9dbdd;box-sizing:border-box;border-radius:6px;"></div>
<span class="t" style="left:1398.30px;top:988.40px;font-size:25.87px;color:#457961;font-weight:700;font-family:'Liberation Sans', sans-serif;transform:scaleX(1.0622);">Start</span>
<span class="t" style="left:1837.30px;top:987.38px;font-size:26.60px;color:#4855a1;font-weight:700;font-family:'Liberation Sans', sans-serif;transform:scaleX(0.9480);">Avg</span>
<div class="b" style="left:1808.30px;top:973.30px;width:1.50px;height:47.40px;background:#dddfe1;"></div>
<span class="t" style="left:1397.70px;top:1042.81px;font-size:26.45px;color:#3a3a3a;font-weight:400;font-family:'Liberation Sans', sans-serif;transform:scaleX(0.9551);">Mar 24, 2024 4:45 PM</span>
<span class="t" style="left:1837.60px;top:1042.81px;font-size:26.45px;color:#4855a1;font-weight:400;font-family:'Liberation Sans', sans-serif;transform:scaleX(0.9627);">8.0</span>
<span class="t" style="left:1397.70px;top:1093.64px;font-size:26.45px;color:#3a3a3a;font-weight:400;font-family:'Liberation Sans', sans-serif;transform:scaleX(0.9551);">Mar 24, 2024 5:14 PM</span>
<span class="t" style="left:1837.60px;top:1093.64px;font-size:26.45px;color:#4855a1;font-weight:400;font-family:'Liberation Sans', sans-serif;transform:scaleX(0.9627);">8.0</span>
<span class="t" style="left:1397.70px;top:1144.47px;font-size:26.45px;color:#3a3a3a;font-weight:400;font-family:'Liberation Sans', sans-serif;transform:scaleX(0.9551);">Mar 24, 2024 5:27 PM</span>
<span class="t" style="left:1837.60px;top:1144.47px;font-size:26.45px;color:#4855a1;font-weight:400;font-family:'Liberation Sans', sans-serif;transform:scaleX(0.9627);">8.0</span>
<span class="t" style="left:1397.70px;top:1195.30px;font-size:26.45px;color:#3a3a3a;font-weight:400;font-family:'Liberation Sans', sans-serif;transform:scaleX(0.9551);">Mar 24, 2024 5:52 PM</span>
<span class="t" style="left:1837.60px;top:1195.30px;font-size:26.45px;color:#4855a1;font-weight:400;font-family:'Liberation Sans', sans-serif;transform:scaleX(0.9627);">8.0</span>
<span class="t" style="left:1397.70px;top:1246.13px;font-size:26.45px;color:#3a3a3a;font-weight:400;font-family:'Liberation Sans', sans-serif;transform:scaleX(0.9551);">Mar 24, 2024 6:18 PM</span>
<span class="t" style="left:1837.60px;top:1246.13px;font-size:26.45px;color:#4855a1;font-weight:400;font-family:'Liberation Sans', sans-serif;transform:scaleX(0.9627);">8.0</span>
<span class="t" style="left:1397.70px;top:1296.96px;font-size:26.45px;color:#3a3a3a;font-weight:400;font-family:'Liberation Sans', sans-serif;transform:scaleX(0.9551);">Mar 24, 2024 8:56 PM</span>
<span class="t" style="left:1837.60px;top:1296.96px;font-size:26.45px;color:#4855a1;font-weight:400;font-family:'Liberation Sans', sans-serif;transform:scaleX(0.9627);">7.9</span>
<span class="t" style="left:1397.70px;top:1347.79px;font-size:26.45px;color:#3a3a3a;font-weight:400;font-family:'Liberation Sans', sans-serif;transform:scaleX(0.9470);">Mar 24, 2024 10:30 PM</span>
<span class="t" style="left:1837.60px;top:1347.79px;font-size:26.45px;color:#4855a1;font-weight:400;font-family:'Liberation Sans', sans-serif;transform:scaleX(0.9627);">7.5</span>
<div class="b" style="left:1286.00px;top:1352.60px;width:933.00px;height:56.40px;background:#fff;"></div>
<div class="b" style="left:1286.00px;top:1352.80px;width:933.00px;height:1.80px;background:#dedfe0;"></div>
<div class="b" style="left:2204.00px;top:965.00px;width:15.00px;height:387.60px;background:#f1f1f1;"></div>
<div class="b" style="left:2203.50px;top:964.50px;width:18.50px;height:385.50px;background:#d8d9da;border-radius:8px;"></div>
<span class="t" style="left:1299.00px;top:1367.75px;font-size:29.36px;color:#3a3a3a;font-weight:400;font-family:'Liberation Sans', sans-serif;transform:scaleX(0.8472);">Page:</span>
<div class="b" style="left:1376.00px;top:1357.70px;width:111.30px;height:48.30px;background:#fff;border:1.3px solid #d0d3d6;box-sizing:border-box;border-radius:6px;"></div>
<span class="t" style="left:1399.00px;top:1368.72px;font-size:27.62px;color:#3a3a3a;font-weight:400;font-family:'Liberation Sans', sans-serif;transform:scaleX(0.5861);">1</span>
<div class="b" style="left:2079.70px;top:1360.30px;width:131.30px;height:44.50px;background:#fff;border:1.3px solid #e6e9ea;box-sizing:border-box;border-radius:5px;"></div>
<div class="b" style="left:2123.30px;top:1360.30px;width:44.90px;height:44.50px;background:#457961;"></div>
<span class="t" style="left:2141.00px;top:1368.72px;font-size:27.62px;color:#fff;font-weight:400;font-family:'Liberation Sans', sans-serif;transform:scaleX(0.6187);">1</span>
<div class="b" style="left:1754.00px;top:1041.70px;width:358.70px;height:205.00px;background:#fff;border:1.6px solid #c8cacc;box-sizing:border-box;border-radius:6px;"></div>
<span class="t" style="left:1845.00px;top:1071.38px;font-size:26.60px;color:#457961;font-weight:400;font-family:'Liberation Sans', sans-serif;transform:scaleX(1.0439);">Filter</span>
<span class="t" style="left:1845.00px;top:1131.38px;font-size:26.60px;color:#457961;font-weight:400;font-family:'Liberation Sans', sans-serif;transform:scaleX(1.0565);">Formatting</span>
<span class="t" style="left:1845.00px;top:1192.08px;font-size:26.60px;color:#457961;font-weight:400;font-family:'Liberation Sans', sans-serif;transform:scaleX(1.0147);">Remove column</span>
<svg class="b" style="left:40px;top:0px" width="1760" height="100" viewBox="40 0 1760 100"><path d="M65.40 28.50 L65.40 69.20 L106.00 69.20" fill="none" stroke="#fff" stroke-width="5.6" stroke-linecap="round" stroke-linejoin="round"/><path d="M71.50 55.30 L75.80 60.00 L81.70 47.80 L87.50 51.00 L94.70 33.80 L100.80 58.00 L103.50 46.50" fill="none" stroke="#fff" stroke-width="4.2" stroke-linecap="round" stroke-linejoin="round"/><path d="M120.60 44.00 L130.50 54.00 L140.40 44.00" fill="none" stroke="#fff" stroke-width="3.2" stroke-linecap="round" stroke-linejoin="miter"/><rect x="215.70" y="25.70" width="30.00" height="28.30" rx="0" fill="none" stroke="#3a3a3a" stroke-width="2.1"/><path d="M225.00 25.70 L225.00 54.00" fill="none" stroke="#3a3a3a" stroke-width="1.9" stroke-linecap="butt" stroke-linejoin="miter"/><path d="M235.80 25.70 L235.80 54.00" fill="none" stroke="#3a3a3a" stroke-width="1.9" stroke-linecap="butt" stroke-linejoin="miter"/><path d="M215.70 30.90 L245.70 30.90" fill="none" stroke="#3a3a3a" stroke-width="1.9" stroke-linecap="butt" stroke-linejoin="miter"/><path d="M215.70 39.20 L245.70 39.20" fill="none" stroke="#3a3a3a" stroke-width="1.9" stroke-linecap="butt" stroke-linejoin="miter"/><path d="M215.70 47.40 L245.70 47.40" fill="none" stroke="#3a3a3a" stroke-width="1.9" stroke-linecap="butt" stroke-linejoin="miter"/><path d="M223.00 19.20 L223.00 25.70" fill="none" stroke="#3a3a3a" stroke-width="2.1" stroke-linecap="butt" stroke-linejoin="miter"/><path d="M238.70 19.20 L238.70 25.70" fill="none" stroke="#3a3a3a" stroke-width="2.1" stroke-linecap="butt" stroke-linejoin="miter"/><path d="M334.26 50.49 L334.95 49.77 A8.5 8.5 0 0 1 322.65 38.03 L330.75 29.54 A8.5 8.5 0 0 1 343.05 41.27 L341.33 43.08" fill="none" stroke="#3a3a3a" stroke-width="3.2"/><path d="M344.03 26.23 L345.55 24.64 A8.5 8.5 0 0 1 357.85 36.37 L349.75 44.87 A8.5 8.5 0 0 1 337.45 33.13 L339.17 31.32" fill="none" stroke="#3a3a3a" stroke-width="3.2"/><rect x="426.70" y="23.30" width="37.10" height="11.30" rx="0" fill="#3a3a3a" stroke="none" stroke-width="0"/><rect x="449.70" y="26.70" width="11.10" height="4.90" rx="0" fill="#fff" stroke="none" stroke-width="0"/><rect x="426.70" y="40.00" width="37.10" height="10.90" rx="0" fill="#3a3a3a" stroke="none" stroke-width="0"/><rect x="440.00" y="43.00" width="20.80" height="5.00" rx="0" fill="#fff" stroke="none" stroke-width="0"/><path d="M563.1 22.1 L554.6 22.1 Q552.1 22.1 552.1 24.6 L552.1 46.6 Q552.1 49.1 554.6 49.1 L563.1 49.1 Z" fill="#3a3a3a"/><path d="M563.10 35.60 L563.10 45.20 L554.70 45.20 Z" fill="#fff"/><rect x="563.05" y="18.70" width="2.65" height="33.70" rx="0" fill="#3a3a3a" stroke="none" stroke-width="0"/><path d="M568.9 22.1 L577 22.1 Q579.55 22.1 579.55 24.6 L579.55 46.6 Q579.55 49.1 577 49.1 L568.9 49.1 L568.9 36.1 L576.9 45.3 L576.9 24.8 L568.9 24.8 Z" fill="#3a3a3a"/><path d="M699.00 49.70 L699.00 26.30" fill="none" stroke="#3a3a3a" stroke-width="2.4" stroke-linecap="butt" stroke-linejoin="miter"/><path d="M693.20 32.50 L699.00 26.30 L704.80 32.50" fill="none" stroke="#3a3a3a" stroke-width="2.4" stroke-linecap="butt" stroke-linejoin="miter"/><path d="M714.00 24.70 L714.00 48.20" fill="none" stroke="#3a3a3a" stroke-width="2.4" stroke-linecap="butt" stroke-linejoin="miter"/><path d="M708.20 42.00 L714.00 48.20 L719.80 42.00" fill="none" stroke="#3a3a3a" stroke-width="2.4" stroke-linecap="butt" stroke-linejoin="miter"/><path d="M721.80 24.70 L721.80 48.60 L749.00 48.60" fill="none" stroke="#3a3a3a" stroke-width="2.4" stroke-linecap="butt" stroke-linejoin="miter"/><path d="M726.30 39.70 L731.70 34.40 L737.50 39.20 L746.70 30.70" fill="none" stroke="#3a3a3a" stroke-width="2.4" stroke-linecap="butt" stroke-linejoin="miter"/><path d="M831.50 49.70 L831.50 26.30" fill="none" stroke="#3a3a3a" stroke-width="2.4" stroke-linecap="butt" stroke-linejoin="miter"/><path d="M825.70 32.50 L831.50 26.30 L837.30 32.50" fill="none" stroke="#3a3a3a" stroke-width="2.4" stroke-linecap="butt" stroke-linejoin="miter"/><path d="M846.50 24.70 L846.50 48.20" fill="none" stroke="#3a3a3a" stroke-width="2.4" stroke-linecap="butt" stroke-linejoin="miter"/><path d="M840.70 42.00 L846.50 48.20 L852.30 42.00" fill="none" stroke="#3a3a3a" stroke-width="2.4" stroke-linecap="butt" stroke-linejoin="miter"/><path d="M854.30 24.70 L854.30 48.60 L881.50 48.60" fill="none" stroke="#3a3a3a" stroke-width="2.4" stroke-linecap="butt" stroke-linejoin="miter"/><path d="M858.80 39.70 L864.20 34.40 L870.00 39.20 L879.20 30.70" fill="none" stroke="#3a3a3a" stroke-width="2.4" stroke-linecap="butt" stroke-linejoin="miter"/><path d="M953.00 25.00 L953.00 49.50" fill="none" stroke="#3a3a3a" stroke-width="2.4" stroke-linecap="butt" stroke-linejoin="miter"/><path d="M947.00 31.00 L953.00 24.60 L959.00 31.00" fill="none" stroke="#3a3a3a" stroke-width="2.4" stroke-linecap="butt" stroke-linejoin="miter"/><path d="M947.00 43.50 L953.00 49.90 L959.00 43.50" fill="none" stroke="#3a3a3a" stroke-width="2.4" stroke-linecap="butt" stroke-linejoin="miter"/><path d="M964.30 24.70 L964.30 48.60 L991.70 48.60" fill="none" stroke="#3a3a3a" stroke-width="2.4" stroke-linecap="butt" stroke-linejoin="miter"/><path d="M968.70 39.70 L974.10 34.40 L979.90 39.20 L989.10 30.70" fill="none" stroke="#3a3a3a" stroke-width="2.4" stroke-linecap="butt" stroke-linejoin="miter"/><path d="M1040.80 25.66 L1051.60 25.66 L1062.80 37.20 L1052.20 47.80 L1040.80 36.50 Z" fill="none" stroke="#3a3a3a" stroke-width="2.1" stroke-linecap="butt" stroke-linejoin="miter"/><circle cx="1045.80" cy="30.80" r="1.75" fill="#3a3a3a" stroke="none" stroke-width="0"/><path d="M1072.70 36.10 L1080.70 43.20 L1088.70 36.10" fill="none" stroke="#3a3a3a" stroke-width="3" stroke-linecap="butt" stroke-linejoin="miter"/><rect x="1164.40" y="19.20" width="3.90" height="31.60" rx="0" fill="#3a3a3a" stroke="none" stroke-width="0"/><rect x="1175.70" y="19.20" width="3.90" height="31.60" rx="0" fill="#3a3a3a" stroke="none" stroke-width="0"/><rect x="1187.10" y="19.20" width="3.90" height="31.60" rx="0" fill="#3a3a3a" stroke="none" stroke-width="0"/><rect x="1161.70" y="22.00" width="31.40" height="3.70" rx="0" fill="#3a3a3a" stroke="none" stroke-width="0"/><rect x="1161.70" y="33.05" width="31.40" height="3.70" rx="0" fill="#3a3a3a" stroke="none" stroke-width="0"/><rect x="1161.70" y="44.40" width="31.40" height="3.70" rx="0" fill="#3a3a3a" stroke="none" stroke-width="0"/><circle cx="1283.66" cy="35.94" r="5.55" fill="none" stroke="#3a3a3a" stroke-width="1.8"/><circle cx="1301.75" cy="35.94" r="5.55" fill="none" stroke="#3a3a3a" stroke-width="1.8"/><path d="M1285.30 29.30 L1290.00 27.10 L1295.40 27.10 L1300.20 29.30 L1296.50 33.40 L1292.70 31.20 L1289.00 33.40 Z" fill="#8a8a8a"/><path d="M1285.50 28.60 L1290.00 27.00 L1289.00 29.50 Z" fill="#3a3a3a"/><path d="M1300.00 28.60 L1295.40 27.00 L1296.50 29.50 Z" fill="#3a3a3a"/><circle cx="1292.70" cy="29.70" r="1.10" fill="#3a3a3a" stroke="none" stroke-width="0"/><path d="M1315.90 37.40 L1323.90 44.60 L1331.90 37.40" fill="none" stroke="#3a3a3a" stroke-width="3" stroke-linecap="butt" stroke-linejoin="miter"/><path d="M1417.40 42.60 L1423.30 20.50 L1429.50 42.60 L1433.00 33.60" fill="none" stroke="#3a3a3a" stroke-width="3.5" stroke-linecap="round" stroke-linejoin="round"/><circle cx="1435.70" cy="27.90" r="1.90" fill="#3a3a3a" stroke="none" stroke-width="0"/><circle cx="1437.50" cy="35.00" r="1.70" fill="#3a3a3a" stroke="none" stroke-width="0"/><circle cx="1438.70" cy="42.10" r="2.00" fill="#3a3a3a" stroke="none" stroke-width="0"/><circle cx="1445.80" cy="41.70" r="2.00" fill="#3a3a3a" stroke="none" stroke-width="0"/><circle cx="1440.10" cy="49.00" r="2.00" fill="#3a3a3a" stroke="none" stroke-width="0"/><path d="M1449.30 47.90 L1452.30 45.50" fill="none" stroke="#3a3a3a" stroke-width="1.6" stroke-linecap="butt" stroke-linejoin="miter"/><circle cx="1567.70" cy="33.60" r="13.10" fill="none" stroke="#999" stroke-width="2.9"/><path d="M1577.30 43.60 L1588.20 53.90" fill="none" stroke="#999" stroke-width="3.4" stroke-linecap="butt" stroke-linejoin="miter"/><path d="M1559.90 33.90 L1575.40 33.90" fill="none" stroke="#999" stroke-width="2.5" stroke-linecap="butt" stroke-linejoin="miter"/><path d="M1567.70 26.20 L1567.70 41.70" fill="none" stroke="#999" stroke-width="2.5" stroke-linecap="butt" stroke-linejoin="miter"/><ellipse cx="1707.20" cy="32.20" rx="16.87" ry="10.77" fill="none" stroke="#999" stroke-width="2.8"/><path d="M1693.06 37.90 L1695.69 38.93 L1695.91 43.94 L1700.02 40.52 L1701.61 43.14 L1695.69 47.25 L1689.53 48.62 L1688.96 46.91 L1693.41 42.46 Z" fill="#999"/><circle cx="1700.25" cy="32.48" r="1.94" fill="#999" stroke="none" stroke-width="0"/><circle cx="1707.20" cy="32.48" r="1.94" fill="#999" stroke="none" stroke-width="0"/><circle cx="1714.15" cy="32.48" r="1.94" fill="#999" stroke="none" stroke-width="0"/></svg>
<svg class="b" style="left:30px;top:680px" width="2189" height="500" viewBox="30 680 2189 500"><path d="M53.00 693.00 L59.60 693.00 L59.60 711.00 L67.50 711.00 L56.30 724.70 L45.00 711.00 L53.00 711.00 Z" fill="#457961"/><path d="M53.00 868.70 L59.60 868.70 L59.60 850.70 L67.50 850.70 L56.30 837.00 L45.00 850.70 L53.00 850.70 Z" fill="#457961"/><path d="M866.5 693.6 L866.5 724 L852 708.8 Z" fill="#457961" stroke="#457961" stroke-width="1.6" stroke-linejoin="round"/><path d="M882.3 693.6 L882.3 724 L867.8 708.8 Z" fill="#457961" stroke="#457961" stroke-width="1.6" stroke-linejoin="round"/><path d="M932.6 693.6 L932.6 724 L917.5 708.8 Z" fill="#457961" stroke="#457961" stroke-width="1.6" stroke-linejoin="round"/><path d="M1144.3 693.6 L1144.3 724 L1159.3 708.8 Z" fill="#457961" stroke="#457961" stroke-width="1.6" stroke-linejoin="round"/><path d="M1194.6 693.6 L1194.6 724 L1209.2 708.8 Z" fill="#457961" stroke="#457961" stroke-width="1.6" stroke-linejoin="round"/><path d="M1210.6 693.6 L1210.6 724 L1225.2 708.8 Z" fill="#457961" stroke="#457961" stroke-width="1.6" stroke-linejoin="round"/><path d="M1258.3 693.6 L1258.3 724 L1272.5 708.8 Z" fill="#457961" stroke="#457961" stroke-width="1.6" stroke-linejoin="round"/><rect x="1273.00" y="693.00" width="4.80" height="31.70" rx="1" fill="#457961" stroke="none" stroke-width="0"/><path d="M1323.14 705.68 A12.2 12.2 0 0 1 1344.76 700.29 L1341.45 702.87 A8.0 8.0 0 0 0 1327.27 706.41 Z" fill="#457961"/><path d="M1347.30 696.40 L1347.30 705.80 L1337.90 705.80 Z" fill="#457961"/><path d="M1347.16 709.92 A12.2 12.2 0 0 1 1325.54 715.31 L1328.85 712.73 A8.0 8.0 0 0 0 1343.03 709.19 Z" fill="#457961"/><path d="M1323.20 710.00 L1323.20 719.30 L1332.40 710.00 Z" fill="#457961"/><path d="M1400.9 708.1 L1397.5 708.1 Q1395.9 708.1 1395.9 706.5 L1395.9 697" fill="none" stroke="#457961" stroke-width="1.5"/><path d="M1395.2 698.6 L1395.2 697 Q1395.2 695 1397.2 695 L1407.5 695 Q1409.5 695 1409.5 697 L1409.5 698.6 Z" fill="#457961"/><rect x="1398.40" y="693.00" width="1.40" height="2.50" rx="0" fill="#457961" stroke="none" stroke-width="0"/><rect x="1404.80" y="693.00" width="1.40" height="2.50" rx="0" fill="#457961" stroke="none" stroke-width="0"/><rect x="1403.60" y="705.00" width="18.60" height="18.90" rx="2.6" fill="#fff" stroke="#457961" stroke-width="2.2"/><path d="M1402.5 709.9 L1402.5 706.5 Q1402.5 703.9 1405.1 703.9 L1420.7 703.9 Q1423.3 703.9 1423.3 706.5 L1423.3 709.9 Z" fill="#457961"/><rect x="1407.40" y="701.00" width="2.00" height="4.00" rx="0.8" fill="#457961" stroke="none" stroke-width="0"/><rect x="1416.60" y="701.00" width="2.00" height="4.00" rx="0.8" fill="#457961" stroke="none" stroke-width="0"/><path d="M1391.4 705.2 Q1386 708 1388.3 713 Q1390.5 717 1396.8 715.6" fill="none" stroke="#457961" stroke-width="2.2"/><path d="M1396.30 711.80 L1400.20 715.10 L1397.20 719.00 Z" fill="#457961"/><rect x="1115.70" y="892.60" width="18.30" height="2.90" rx="1" fill="#3f3f3f" stroke="none" stroke-width="0"/><rect x="1115.70" y="898.50" width="18.30" height="2.90" rx="1" fill="#3f3f3f" stroke="none" stroke-width="0"/><rect x="1273.60" y="1155.00" width="2.00" height="18.30" rx="0" fill="#8a8d90" stroke="none" stroke-width="0"/><rect x="1279.40" y="1155.00" width="2.00" height="18.30" rx="0" fill="#8a8d90" stroke="none" stroke-width="0"/><rect x="2156.00" y="759.80" width="12.08" height="31.60" rx="2" fill="#457961" stroke="none" stroke-width="0"/><rect x="2170.32" y="759.80" width="12.08" height="31.60" rx="2" fill="#457961" stroke="none" stroke-width="0"/><path d="M2156.00 777.02 L2159.17 780.50 L2162.34 764.54 L2165.64 786.98 L2168.80 774.34 L2171.97 777.81 L2176.59 764.54 L2180.16 786.50 L2182.40 778.76" fill="none" stroke="#fff" stroke-width="2.0" stroke-linecap="butt" stroke-linejoin="miter"/></svg>
<svg class="b" style="left:27px;top:906px" width="2192" height="447" viewBox="27 906 2192 447"><path d="M50.30 921.50 L50.30 945.50 L78.30 945.50" fill="none" stroke="#457961" stroke-width="2.3" stroke-linecap="butt" stroke-linejoin="miter"/><path d="M56.50 940.00 L56.50 933.00 L63.00 926.50 L68.00 931.00 L71.50 928.00 L76.00 933.00 L76.00 940.00 Z" fill="none" stroke="#457961" stroke-width="2.2" stroke-linecap="butt" stroke-linejoin="miter"/><path d="M1075.90 927.40 L1078.76 927.37 L1078.76 930.63 L1075.90 930.60 L1075.16 932.40 L1077.20 934.39 L1074.89 936.70 L1072.90 934.66 L1071.10 935.40 L1071.13 938.26 L1067.87 938.26 L1067.90 935.40 L1066.10 934.66 L1064.11 936.70 L1061.80 934.39 L1063.84 932.40 L1063.10 930.60 L1060.24 930.63 L1060.24 927.37 L1063.10 927.40 L1063.84 925.60 L1061.80 923.61 L1064.11 921.30 L1066.10 923.34 L1067.90 922.60 L1067.87 919.74 L1071.13 919.74 L1071.10 922.60 L1072.90 923.34 L1074.89 921.30 L1077.20 923.61 L1075.16 925.60 Z" fill="none" stroke="#3a3a3a" stroke-width="1.9" stroke-linecap="butt" stroke-linejoin="round"/><circle cx="1069.50" cy="929.00" r="2.20" fill="#3a3a3a" stroke="none" stroke-width="0"/><path d="M1094.30 938.10 L1097.16 938.07 L1097.16 941.33 L1094.30 941.30 L1093.56 943.10 L1095.60 945.09 L1093.29 947.40 L1091.30 945.36 L1089.50 946.10 L1089.53 948.96 L1086.27 948.96 L1086.30 946.10 L1084.50 945.36 L1082.51 947.40 L1080.20 945.09 L1082.24 943.10 L1081.50 941.30 L1078.64 941.33 L1078.64 938.07 L1081.50 938.10 L1082.24 936.30 L1080.20 934.31 L1082.51 932.00 L1084.50 934.04 L1086.30 933.30 L1086.27 930.44 L1089.53 930.44 L1089.50 933.30 L1091.30 934.04 L1093.29 932.00 L1095.60 934.31 L1093.56 936.30 Z" fill="none" stroke="#3a3a3a" stroke-width="1.9" stroke-linecap="butt" stroke-linejoin="round"/><circle cx="1087.90" cy="939.70" r="2.20" fill="#3a3a3a" stroke="none" stroke-width="0"/><path d="M103.00 1002.00 C 102.46 991.30 110.03 982.80 122.30 982.70 C 122.65 992.05 115.07 999.98 103.00 1002.00 Z" fill="none" stroke="#457961" stroke-width="2.2" stroke-linejoin="miter"/><circle cx="114.40" cy="990.60" r="2.35" fill="#457961" stroke="none" stroke-width="0"/><path d="M97.80 989.90 L105.20 989.90 L101.60 998.50 L93.80 998.50 Z" fill="#457961"/><path d="M106.40 1004.30 L115.10 999.80 L115.10 1006.50 L106.40 1011.00 Z" fill="#457961"/><path d="M99.20 1000.90 L102.30 999.10 L107.00 1003.70 L104.30 1005.70 Z" fill="#457961"/><path d="M204.50 990.40 L222.00 1007.60" fill="none" stroke="#555" stroke-width="2.6" stroke-linecap="butt" stroke-linejoin="miter"/><path d="M204.50 1007.60 L222.00 990.40" fill="none" stroke="#555" stroke-width="2.6" stroke-linecap="butt" stroke-linejoin="miter"/><rect x="247.10" y="987.90" width="22.70" height="22.70" rx="0" fill="none" stroke="#3a3a3a" stroke-width="2.4"/><path d="M355.30 995.90 L363.40 988.00 L371.50 995.90 Z" fill="none" stroke="#5a5a5a" stroke-width="2.3" stroke-linecap="butt" stroke-linejoin="miter"/><path d="M355.30 1002.40 L363.40 1010.30 L371.50 1002.40 Z" fill="none" stroke="#5a5a5a" stroke-width="2.3" stroke-linecap="butt" stroke-linejoin="miter"/><path d="M481.30 995.90 L489.40 988.00 L497.50 995.90 Z" fill="none" stroke="#5a5a5a" stroke-width="2.3" stroke-linecap="butt" stroke-linejoin="miter"/><path d="M481.30 1002.40 L489.40 1010.30 L497.50 1002.40 Z" fill="none" stroke="#5a5a5a" stroke-width="2.3" stroke-linecap="butt" stroke-linejoin="miter"/><path d="M944.90 995.90 L953.00 988.00 L961.10 995.90 Z" fill="none" stroke="#5a5a5a" stroke-width="2.3" stroke-linecap="butt" stroke-linejoin="miter"/><path d="M944.90 1002.40 L953.00 1010.30 L961.10 1002.40 Z" fill="none" stroke="#5a5a5a" stroke-width="2.3" stroke-linecap="butt" stroke-linejoin="miter"/><path d="M1053.30 995.60 L1059.90 989.20 L1066.50 995.60 Z" fill="none" stroke="#457961" stroke-width="2.0" stroke-linecap="butt" stroke-linejoin="miter"/><rect x="1197.00" y="978.60" width="33.20" height="26.60" rx="2.2" fill="#fff" stroke="#333" stroke-width="1.0"/><clipPath id="cp1196"><rect x="1213.20" y="979.10" width="16.50" height="25.60"/></clipPath><path d="M1213.20 974.10 L1230.70 968.10 M1213.20 976.80 L1230.70 970.80 M1213.20 979.50 L1230.70 973.50 M1213.20 982.20 L1230.70 976.20 M1213.20 984.90 L1230.70 978.90 M1213.20 987.60 L1230.70 981.60 M1213.20 990.30 L1230.70 984.30 M1213.20 993.00 L1230.70 987.00 M1213.20 995.70 L1230.70 989.70 M1213.20 998.40 L1230.70 992.40 M1213.20 1001.10 L1230.70 995.10 M1213.20 1003.80 L1230.70 997.80 M1213.20 1006.50 L1230.70 1000.50 M1213.20 1009.20 L1230.70 1003.20 M1213.20 1011.90 L1230.70 1005.90 M1213.20 1014.60 L1230.70 1008.60" stroke="#9a9a9a" stroke-width="0.8" fill="none" clip-path="url(#cp1196)"/><path d="M1213.20 978.10 L1213.20 1005.70" fill="none" stroke="#333" stroke-width="0.9" stroke-linecap="butt" stroke-linejoin="miter"/><path d="M1196.50 988.00 L1213.20 988.00" fill="none" stroke="#333" stroke-width="0.8" stroke-linecap="butt" stroke-linejoin="miter"/><path d="M1196.50 996.30 L1213.20 996.30" fill="none" stroke="#333" stroke-width="0.8" stroke-linecap="butt" stroke-linejoin="miter"/><circle cx="1227.20" cy="1002.90" r="6.80" fill="#333" stroke="none" stroke-width="0"/><path d="M1222.90 1002.90 L1231.50 1002.90" fill="none" stroke="#fff" stroke-width="1.8" stroke-linecap="butt" stroke-linejoin="miter"/><path d="M1227.20 998.60 L1227.20 1007.20" fill="none" stroke="#fff" stroke-width="1.8" stroke-linecap="butt" stroke-linejoin="miter"/><path d="M36.10 1064.50 L37.90 1055.30 L57.80 1036.00 L65.00 1042.30 L44.80 1062.50 Z" fill="#457961"/><path d="M46.20 1053.80 L54.90 1045.50" fill="none" stroke="#f8f8f8" stroke-width="3.4" stroke-linecap="round" stroke-linejoin="miter"/><path d="M46.60 1053.50 L54.50 1045.90" fill="none" stroke="#457961" stroke-width="0.9" stroke-linecap="butt" stroke-linejoin="miter"/><path d="M39.20 1061.20 L41.00 1056.00 L45.70 1059.70 Z" fill="#f8f8f8"/><path d="M103.00 1057.30 C 102.46 1046.60 110.03 1038.10 122.30 1038.00 C 122.65 1047.35 115.07 1055.28 103.00 1057.30 Z" fill="none" stroke="#457961" stroke-width="2.2" stroke-linejoin="miter"/><circle cx="114.40" cy="1045.90" r="2.35" fill="#457961" stroke="none" stroke-width="0"/><path d="M97.80 1045.20 L105.20 1045.20 L101.60 1053.80 L93.80 1053.80 Z" fill="#457961"/><path d="M106.40 1059.60 L115.10 1055.10 L115.10 1061.80 L106.40 1066.30 Z" fill="#457961"/><path d="M99.20 1056.20 L102.30 1054.40 L107.00 1059.00 L104.30 1061.00 Z" fill="#457961"/><circle cx="167.56" cy="1049.90" r="13.35" fill="none" stroke="#457961" stroke-width="2.1"/><rect x="165.90" y="1043.40" width="3.30" height="3.00" rx="0" fill="#457961" stroke="none" stroke-width="0"/><rect x="164.00" y="1049.20" width="6.60" height="2.10" rx="0" fill="#457961" stroke="none" stroke-width="0"/><rect x="167.40" y="1049.20" width="3.20" height="6.80" rx="0" fill="#457961" stroke="none" stroke-width="0"/><rect x="164.00" y="1054.90" width="7.00" height="2.20" rx="0" fill="#457961" stroke="none" stroke-width="0"/><path d="M204.50 1041.70 L222.00 1058.80" fill="none" stroke="#457961" stroke-width="2.3" stroke-linecap="butt" stroke-linejoin="miter"/><path d="M204.50 1058.80 L222.00 1041.70" fill="none" stroke="#457961" stroke-width="2.3" stroke-linecap="butt" stroke-linejoin="miter"/><rect x="247.10" y="1040.60" width="22.70" height="22.90" rx="0" fill="none" stroke="#3a3a3a" stroke-width="2.4"/><path d="M103.00 1108.15 C 102.46 1097.45 110.03 1088.95 122.30 1088.85 C 122.65 1098.20 115.07 1106.13 103.00 1108.15 Z" fill="none" stroke="#457961" stroke-width="2.2" stroke-linejoin="miter"/><circle cx="114.40" cy="1096.75" r="2.35" fill="#457961" stroke="none" stroke-width="0"/><path d="M97.80 1096.05 L105.20 1096.05 L101.60 1104.65 L93.80 1104.65 Z" fill="#457961"/><path d="M106.40 1110.45 L115.10 1105.95 L115.10 1112.65 L106.40 1117.15 Z" fill="#457961"/><path d="M99.20 1107.05 L102.30 1105.25 L107.00 1109.85 L104.30 1111.85 Z" fill="#457961"/><circle cx="167.56" cy="1100.75" r="13.35" fill="none" stroke="#457961" stroke-width="2.1"/><rect x="165.90" y="1094.25" width="3.30" height="3.00" rx="0" fill="#457961" stroke="none" stroke-width="0"/><rect x="164.00" y="1100.05" width="6.60" height="2.10" rx="0" fill="#457961" stroke="none" stroke-width="0"/><rect x="167.40" y="1100.05" width="3.20" height="6.80" rx="0" fill="#457961" stroke="none" stroke-width="0"/><rect x="164.00" y="1105.75" width="7.00" height="2.20" rx="0" fill="#457961" stroke="none" stroke-width="0"/><path d="M204.50 1092.55 L222.00 1109.65" fill="none" stroke="#457961" stroke-width="2.3" stroke-linecap="butt" stroke-linejoin="miter"/><path d="M204.50 1109.65 L222.00 1092.55" fill="none" stroke="#457961" stroke-width="2.3" stroke-linecap="butt" stroke-linejoin="miter"/><rect x="247.10" y="1091.45" width="22.70" height="22.90" rx="0" fill="none" stroke="#3a3a3a" stroke-width="2.4"/><path d="M103.00 1159.00 C 102.46 1148.30 110.03 1139.80 122.30 1139.70 C 122.65 1149.05 115.07 1156.98 103.00 1159.00 Z" fill="none" stroke="#457961" stroke-width="2.2" stroke-linejoin="miter"/><circle cx="114.40" cy="1147.60" r="2.35" fill="#457961" stroke="none" stroke-width="0"/><path d="M97.80 1146.90 L105.20 1146.90 L101.60 1155.50 L93.80 1155.50 Z" fill="#457961"/><path d="M106.40 1161.30 L115.10 1156.80 L115.10 1163.50 L106.40 1168.00 Z" fill="#457961"/><path d="M99.20 1157.90 L102.30 1156.10 L107.00 1160.70 L104.30 1162.70 Z" fill="#457961"/><circle cx="167.56" cy="1151.60" r="13.35" fill="none" stroke="#457961" stroke-width="2.1"/><rect x="165.90" y="1145.10" width="3.30" height="3.00" rx="0" fill="#457961" stroke="none" stroke-width="0"/><rect x="164.00" y="1150.90" width="6.60" height="2.10" rx="0" fill="#457961" stroke="none" stroke-width="0"/><rect x="167.40" y="1150.90" width="3.20" height="6.80" rx="0" fill="#457961" stroke="none" stroke-width="0"/><rect x="164.00" y="1156.60" width="7.00" height="2.20" rx="0" fill="#457961" stroke="none" stroke-width="0"/><path d="M204.50 1143.40 L222.00 1160.50" fill="none" stroke="#457961" stroke-width="2.3" stroke-linecap="butt" stroke-linejoin="miter"/><path d="M204.50 1160.50 L222.00 1143.40" fill="none" stroke="#457961" stroke-width="2.3" stroke-linecap="butt" stroke-linejoin="miter"/><rect x="247.10" y="1142.30" width="22.70" height="22.90" rx="0" fill="none" stroke="#3a3a3a" stroke-width="2.4"/><path d="M103.00 1209.85 C 102.46 1199.15 110.03 1190.65 122.30 1190.55 C 122.65 1199.90 115.07 1207.83 103.00 1209.85 Z" fill="none" stroke="#457961" stroke-width="2.2" stroke-linejoin="miter"/><circle cx="114.40" cy="1198.45" r="2.35" fill="#457961" stroke="none" stroke-width="0"/><path d="M97.80 1197.75 L105.20 1197.75 L101.60 1206.35 L93.80 1206.35 Z" fill="#457961"/><path d="M106.40 1212.15 L115.10 1207.65 L115.10 1214.35 L106.40 1218.85 Z" fill="#457961"/><path d="M99.20 1208.75 L102.30 1206.95 L107.00 1211.55 L104.30 1213.55 Z" fill="#457961"/><circle cx="167.56" cy="1202.45" r="13.35" fill="none" stroke="#457961" stroke-width="2.1"/><rect x="165.90" y="1195.95" width="3.30" height="3.00" rx="0" fill="#457961" stroke="none" stroke-width="0"/><rect x="164.00" y="1201.75" width="6.60" height="2.10" rx="0" fill="#457961" stroke="none" stroke-width="0"/><rect x="167.40" y="1201.75" width="3.20" height="6.80" rx="0" fill="#457961" stroke="none" stroke-width="0"/><rect x="164.00" y="1207.45" width="7.00" height="2.20" rx="0" fill="#457961" stroke="none" stroke-width="0"/><path d="M204.50 1194.25 L222.00 1211.35" fill="none" stroke="#457961" stroke-width="2.3" stroke-linecap="butt" stroke-linejoin="miter"/><path d="M204.50 1211.35 L222.00 1194.25" fill="none" stroke="#457961" stroke-width="2.3" stroke-linecap="butt" stroke-linejoin="miter"/><rect x="247.10" y="1193.15" width="22.70" height="22.90" rx="0" fill="none" stroke="#3a3a3a" stroke-width="2.4"/><rect x="293.70" y="1032.90" width="11.94" height="31.80" rx="2" fill="#c2518c" stroke="none" stroke-width="0"/><rect x="307.86" y="1032.90" width="11.94" height="31.80" rx="2" fill="#c2518c" stroke="none" stroke-width="0"/><path d="M293.70 1050.23 L296.83 1053.73 L299.96 1037.67 L303.23 1060.25 L306.36 1047.53 L309.49 1051.03 L314.06 1037.67 L317.58 1059.77 L319.80 1051.98" fill="none" stroke="#f8f8f8" stroke-width="1.4" stroke-linecap="butt" stroke-linejoin="miter"/><path d="M291.40 1104.30 L296.80 1086.50 L302.70 1106.80 L308.70 1092.80 L314.00 1113.50 L319.80 1102.70 L321.60 1108.50" fill="none" stroke="#4855a1" stroke-width="3.2" stroke-linecap="round" stroke-linejoin="round"/><path d="M291.40 1205.50 L296.80 1187.70 L302.70 1208.00 L308.70 1194.00 L314.00 1214.70 L319.80 1203.90 L321.60 1209.70" fill="none" stroke="#b25823" stroke-width="3.2" stroke-linecap="round" stroke-linejoin="round"/><ellipse cx="664.84" cy="1097.74" rx="14.80" ry="9.45" fill="none" stroke="#457961" stroke-width="2.4"/><path d="M652.44 1102.74 L654.74 1103.64 L654.94 1108.04 L658.54 1105.04 L659.94 1107.34 L654.74 1110.94 L649.34 1112.14 L648.84 1110.64 L652.74 1106.74 Z" fill="#457961"/><circle cx="658.74" cy="1097.99" r="1.70" fill="#457961" stroke="none" stroke-width="0"/><circle cx="664.84" cy="1097.99" r="1.70" fill="#457961" stroke="none" stroke-width="0"/><circle cx="670.94" cy="1097.99" r="1.70" fill="#457961" stroke="none" stroke-width="0"/><ellipse cx="587.30" cy="1198.60" rx="14.80" ry="9.45" fill="none" stroke="#457961" stroke-width="2.4"/><path d="M574.90 1203.60 L577.20 1204.50 L577.40 1208.90 L581.00 1205.90 L582.40 1208.20 L577.20 1211.80 L571.80 1213.00 L571.30 1211.50 L575.20 1207.60 Z" fill="#457961"/><circle cx="581.20" cy="1198.85" r="1.70" fill="#457961" stroke="none" stroke-width="0"/><circle cx="587.30" cy="1198.85" r="1.70" fill="#457961" stroke="none" stroke-width="0"/><circle cx="593.40" cy="1198.85" r="1.70" fill="#457961" stroke="none" stroke-width="0"/><path d="M1320.60 916.50 L1316.30 916.50 L1316.30 945.20 L1320.60 945.20" fill="none" stroke="#457961" stroke-width="2.8" stroke-linecap="butt" stroke-linejoin="miter"/><path d="M1330.30 916.50 L1334.60 916.50 L1334.60 945.20 L1330.30 945.20" fill="none" stroke="#457961" stroke-width="2.8" stroke-linecap="butt" stroke-linejoin="miter"/><path d="M1319.54 927.41 L1322.60 934.92 L1324.50 921.46 L1327.67 939.93 L1330.62 928.35" fill="none" stroke="#457961" stroke-width="2.0" stroke-linecap="butt" stroke-linejoin="miter"/><rect x="1300.10" y="989.50" width="22.90" height="23.10" rx="0" fill="none" stroke="#3a3a3a" stroke-width="2.4"/><path d="M1475.40 995.60 L1482.00 989.20 L1488.60 995.60 Z" fill="none" stroke="#457961" stroke-width="2.0" stroke-linecap="butt" stroke-linejoin="miter"/><circle cx="1511.00" cy="986.50" r="4.60" fill="#dcdfe3" stroke="none" stroke-width="0"/><circle cx="1511.00" cy="998.00" r="4.60" fill="#dcdfe3" stroke="none" stroke-width="0"/><circle cx="1511.00" cy="1009.50" r="4.60" fill="#dcdfe3" stroke="none" stroke-width="0"/><circle cx="1933.80" cy="986.50" r="4.60" fill="#dcdfe3" stroke="none" stroke-width="0"/><circle cx="1933.80" cy="998.00" r="4.60" fill="#dcdfe3" stroke="none" stroke-width="0"/><circle cx="1933.80" cy="1009.50" r="4.60" fill="#dcdfe3" stroke="none" stroke-width="0"/><rect x="1758.80" y="980.60" width="33.20" height="26.60" rx="2.2" fill="#fff" stroke="#333" stroke-width="1.0"/><clipPath id="cp1758"><rect x="1775.00" y="981.10" width="16.50" height="25.60"/></clipPath><path d="M1775.00 976.10 L1792.50 970.10 M1775.00 978.80 L1792.50 972.80 M1775.00 981.50 L1792.50 975.50 M1775.00 984.20 L1792.50 978.20 M1775.00 986.90 L1792.50 980.90 M1775.00 989.60 L1792.50 983.60 M1775.00 992.30 L1792.50 986.30 M1775.00 995.00 L1792.50 989.00 M1775.00 997.70 L1792.50 991.70 M1775.00 1000.40 L1792.50 994.40 M1775.00 1003.10 L1792.50 997.10 M1775.00 1005.80 L1792.50 999.80 M1775.00 1008.50 L1792.50 1002.50 M1775.00 1011.20 L1792.50 1005.20 M1775.00 1013.90 L1792.50 1007.90 M1775.00 1016.60 L1792.50 1010.60" stroke="#9a9a9a" stroke-width="0.8" fill="none" clip-path="url(#cp1758)"/><path d="M1775.00 980.10 L1775.00 1007.70" fill="none" stroke="#333" stroke-width="0.9" stroke-linecap="butt" stroke-linejoin="miter"/><path d="M1758.30 990.00 L1775.00 990.00" fill="none" stroke="#333" stroke-width="0.8" stroke-linecap="butt" stroke-linejoin="miter"/><path d="M1758.30 998.30 L1775.00 998.30" fill="none" stroke="#333" stroke-width="0.8" stroke-linecap="butt" stroke-linejoin="miter"/><circle cx="1789.00" cy="1004.90" r="6.80" fill="#333" stroke="none" stroke-width="0"/><path d="M1784.70 1004.90 L1793.30 1004.90" fill="none" stroke="#fff" stroke-width="1.8" stroke-linecap="butt" stroke-linejoin="miter"/><path d="M1789.00 1000.60 L1789.00 1009.20" fill="none" stroke="#fff" stroke-width="1.8" stroke-linecap="butt" stroke-linejoin="miter"/><path d="M1896.90 995.90 L1905.00 988.00 L1913.10 995.90 Z" fill="none" stroke="#5a5a5a" stroke-width="2.3" stroke-linecap="butt" stroke-linejoin="miter"/><path d="M1896.90 1002.40 L1905.00 1010.30 L1913.10 1002.40 Z" fill="none" stroke="#5a5a5a" stroke-width="2.3" stroke-linecap="butt" stroke-linejoin="miter"/><rect x="1992.60" y="980.60" width="33.20" height="26.60" rx="2.2" fill="#fff" stroke="#4855a1" stroke-width="1.0"/><clipPath id="cp1992"><rect x="2008.80" y="981.10" width="16.50" height="25.60"/></clipPath><path d="M2008.80 976.10 L2026.30 970.10 M2008.80 978.80 L2026.30 972.80 M2008.80 981.50 L2026.30 975.50 M2008.80 984.20 L2026.30 978.20 M2008.80 986.90 L2026.30 980.90 M2008.80 989.60 L2026.30 983.60 M2008.80 992.30 L2026.30 986.30 M2008.80 995.00 L2026.30 989.00 M2008.80 997.70 L2026.30 991.70 M2008.80 1000.40 L2026.30 994.40 M2008.80 1003.10 L2026.30 997.10 M2008.80 1005.80 L2026.30 999.80 M2008.80 1008.50 L2026.30 1002.50 M2008.80 1011.20 L2026.30 1005.20 M2008.80 1013.90 L2026.30 1007.90 M2008.80 1016.60 L2026.30 1010.60" stroke="#9a9ab5" stroke-width="0.8" fill="none" clip-path="url(#cp1992)"/><path d="M2008.80 980.10 L2008.80 1007.70" fill="none" stroke="#4855a1" stroke-width="0.9" stroke-linecap="butt" stroke-linejoin="miter"/><path d="M1992.10 990.00 L2008.80 990.00" fill="none" stroke="#4855a1" stroke-width="0.8" stroke-linecap="butt" stroke-linejoin="miter"/><path d="M1992.10 998.30 L2008.80 998.30" fill="none" stroke="#4855a1" stroke-width="0.8" stroke-linecap="butt" stroke-linejoin="miter"/><circle cx="2022.80" cy="1004.90" r="6.80" fill="#4855a1" stroke="none" stroke-width="0"/><path d="M2018.50 1004.90 L2027.10 1004.90" fill="none" stroke="#fff" stroke-width="1.8" stroke-linecap="butt" stroke-linejoin="miter"/><path d="M2022.80 1000.60 L2022.80 1009.20" fill="none" stroke="#fff" stroke-width="1.8" stroke-linecap="butt" stroke-linejoin="miter"/><rect x="2069.70" y="980.60" width="33.20" height="26.60" rx="2.2" fill="#fff" stroke="#b25823" stroke-width="1.0"/><clipPath id="cp2069"><rect x="2085.90" y="981.10" width="16.50" height="25.60"/></clipPath><path d="M2085.90 976.10 L2103.40 970.10 M2085.90 978.80 L2103.40 972.80 M2085.90 981.50 L2103.40 975.50 M2085.90 984.20 L2103.40 978.20 M2085.90 986.90 L2103.40 980.90 M2085.90 989.60 L2103.40 983.60 M2085.90 992.30 L2103.40 986.30 M2085.90 995.00 L2103.40 989.00 M2085.90 997.70 L2103.40 991.70 M2085.90 1000.40 L2103.40 994.40 M2085.90 1003.10 L2103.40 997.10 M2085.90 1005.80 L2103.40 999.80 M2085.90 1008.50 L2103.40 1002.50 M2085.90 1011.20 L2103.40 1005.20 M2085.90 1013.90 L2103.40 1007.90 M2085.90 1016.60 L2103.40 1010.60" stroke="#b0a39a" stroke-width="0.8" fill="none" clip-path="url(#cp2069)"/><path d="M2085.90 980.10 L2085.90 1007.70" fill="none" stroke="#b25823" stroke-width="0.9" stroke-linecap="butt" stroke-linejoin="miter"/><path d="M2069.20 990.00 L2085.90 990.00" fill="none" stroke="#b25823" stroke-width="0.8" stroke-linecap="butt" stroke-linejoin="miter"/><path d="M2069.20 998.30 L2085.90 998.30" fill="none" stroke="#b25823" stroke-width="0.8" stroke-linecap="butt" stroke-linejoin="miter"/><circle cx="2099.90" cy="1004.90" r="6.80" fill="#b25823" stroke="none" stroke-width="0"/><path d="M2095.60 1004.90 L2104.20 1004.90" fill="none" stroke="#fff" stroke-width="1.8" stroke-linecap="butt" stroke-linejoin="miter"/><path d="M2099.90 1000.60 L2099.90 1009.20" fill="none" stroke="#fff" stroke-width="1.8" stroke-linecap="butt" stroke-linejoin="miter"/><rect x="2146.90" y="980.60" width="33.20" height="26.60" rx="2.2" fill="#fff" stroke="#5b9bd6" stroke-width="1.0"/><clipPath id="cp2146"><rect x="2163.10" y="981.10" width="16.50" height="25.60"/></clipPath><path d="M2163.10 976.10 L2180.60 970.10 M2163.10 978.80 L2180.60 972.80 M2163.10 981.50 L2180.60 975.50 M2163.10 984.20 L2180.60 978.20 M2163.10 986.90 L2180.60 980.90 M2163.10 989.60 L2180.60 983.60 M2163.10 992.30 L2180.60 986.30 M2163.10 995.00 L2180.60 989.00 M2163.10 997.70 L2180.60 991.70 M2163.10 1000.40 L2180.60 994.40 M2163.10 1003.10 L2180.60 997.10 M2163.10 1005.80 L2180.60 999.80 M2163.10 1008.50 L2180.60 1002.50 M2163.10 1011.20 L2180.60 1005.20 M2163.10 1013.90 L2180.60 1007.90 M2163.10 1016.60 L2180.60 1010.60" stroke="#b9a9dc" stroke-width="0.8" fill="none" clip-path="url(#cp2146)"/><path d="M2163.10 980.10 L2163.10 1007.70" fill="none" stroke="#5b9bd6" stroke-width="0.9" stroke-linecap="butt" stroke-linejoin="miter"/><path d="M2146.40 990.00 L2163.10 990.00" fill="none" stroke="#5b9bd6" stroke-width="0.8" stroke-linecap="butt" stroke-linejoin="miter"/><path d="M2146.40 998.30 L2163.10 998.30" fill="none" stroke="#5b9bd6" stroke-width="0.8" stroke-linecap="butt" stroke-linejoin="miter"/><circle cx="2177.10" cy="1004.90" r="6.80" fill="#5b9bd6" stroke="none" stroke-width="0"/><path d="M2172.80 1004.90 L2181.40 1004.90" fill="none" stroke="#fff" stroke-width="1.8" stroke-linecap="butt" stroke-linejoin="miter"/><path d="M2177.10 1000.60 L2177.10 1009.20" fill="none" stroke="#fff" stroke-width="1.8" stroke-linecap="butt" stroke-linejoin="miter"/><rect x="1300.10" y="1042.90" width="22.90" height="22.90" rx="0" fill="none" stroke="#3a3a3a" stroke-width="2.4"/><path d="M1361.55 1036.30 L1357.20 1036.30 L1357.20 1065.70 L1361.55 1065.70" fill="none" stroke="#c2518c" stroke-width="2.8" stroke-linecap="butt" stroke-linejoin="miter"/><path d="M1371.35 1036.30 L1375.70 1036.30 L1375.70 1065.70 L1371.35 1065.70" fill="none" stroke="#c2518c" stroke-width="2.8" stroke-linecap="butt" stroke-linejoin="miter"/><path d="M1360.49 1047.48 L1363.57 1055.16 L1365.49 1041.40 L1368.69 1060.28 L1371.67 1048.44" fill="none" stroke="#c2518c" stroke-width="2.0" stroke-linecap="butt" stroke-linejoin="miter"/><rect x="1300.10" y="1093.73" width="22.90" height="22.90" rx="0" fill="none" stroke="#3a3a3a" stroke-width="2.4"/><path d="M1361.55 1087.13 L1357.20 1087.13 L1357.20 1116.53 L1361.55 1116.53" fill="none" stroke="#c2518c" stroke-width="2.8" stroke-linecap="butt" stroke-linejoin="miter"/><path d="M1371.35 1087.13 L1375.70 1087.13 L1375.70 1116.53 L1371.35 1116.53" fill="none" stroke="#c2518c" stroke-width="2.8" stroke-linecap="butt" stroke-linejoin="miter"/><path d="M1360.49 1098.31 L1363.57 1105.99 L1365.49 1092.23 L1368.69 1111.11 L1371.67 1099.27" fill="none" stroke="#c2518c" stroke-width="2.0" stroke-linecap="butt" stroke-linejoin="miter"/><rect x="1300.10" y="1144.56" width="22.90" height="22.90" rx="0" fill="none" stroke="#3a3a3a" stroke-width="2.4"/><path d="M1361.55 1137.96 L1357.20 1137.96 L1357.20 1167.36 L1361.55 1167.36" fill="none" stroke="#c2518c" stroke-width="2.8" stroke-linecap="butt" stroke-linejoin="miter"/><path d="M1371.35 1137.96 L1375.70 1137.96 L1375.70 1167.36 L1371.35 1167.36" fill="none" stroke="#c2518c" stroke-width="2.8" stroke-linecap="butt" stroke-linejoin="miter"/><path d="M1360.49 1149.14 L1363.57 1156.82 L1365.49 1143.06 L1368.69 1161.94 L1371.67 1150.10" fill="none" stroke="#c2518c" stroke-width="2.0" stroke-linecap="butt" stroke-linejoin="miter"/><rect x="1300.10" y="1195.39" width="22.90" height="22.90" rx="0" fill="none" stroke="#3a3a3a" stroke-width="2.4"/><path d="M1361.55 1188.79 L1357.20 1188.79 L1357.20 1218.19 L1361.55 1218.19" fill="none" stroke="#c2518c" stroke-width="2.8" stroke-linecap="butt" stroke-linejoin="miter"/><path d="M1371.35 1188.79 L1375.70 1188.79 L1375.70 1218.19 L1371.35 1218.19" fill="none" stroke="#c2518c" stroke-width="2.8" stroke-linecap="butt" stroke-linejoin="miter"/><path d="M1360.49 1199.97 L1363.57 1207.65 L1365.49 1193.89 L1368.69 1212.77 L1371.67 1200.93" fill="none" stroke="#c2518c" stroke-width="2.0" stroke-linecap="butt" stroke-linejoin="miter"/><rect x="1300.10" y="1246.22" width="22.90" height="22.90" rx="0" fill="none" stroke="#3a3a3a" stroke-width="2.4"/><path d="M1361.55 1239.62 L1357.20 1239.62 L1357.20 1269.02 L1361.55 1269.02" fill="none" stroke="#c2518c" stroke-width="2.8" stroke-linecap="butt" stroke-linejoin="miter"/><path d="M1371.35 1239.62 L1375.70 1239.62 L1375.70 1269.02 L1371.35 1269.02" fill="none" stroke="#c2518c" stroke-width="2.8" stroke-linecap="butt" stroke-linejoin="miter"/><path d="M1360.49 1250.80 L1363.57 1258.48 L1365.49 1244.72 L1368.69 1263.60 L1371.67 1251.76" fill="none" stroke="#c2518c" stroke-width="2.0" stroke-linecap="butt" stroke-linejoin="miter"/><rect x="1300.10" y="1297.05" width="22.90" height="22.90" rx="0" fill="none" stroke="#3a3a3a" stroke-width="2.4"/><path d="M1361.55 1290.45 L1357.20 1290.45 L1357.20 1319.85 L1361.55 1319.85" fill="none" stroke="#c2518c" stroke-width="2.8" stroke-linecap="butt" stroke-linejoin="miter"/><path d="M1371.35 1290.45 L1375.70 1290.45 L1375.70 1319.85 L1371.35 1319.85" fill="none" stroke="#c2518c" stroke-width="2.8" stroke-linecap="butt" stroke-linejoin="miter"/><path d="M1360.49 1301.63 L1363.57 1309.31 L1365.49 1295.55 L1368.69 1314.43 L1371.67 1302.59" fill="none" stroke="#c2518c" stroke-width="2.0" stroke-linecap="butt" stroke-linejoin="miter"/><rect x="1300.10" y="1347.88" width="22.90" height="22.90" rx="0" fill="none" stroke="#3a3a3a" stroke-width="2.4"/><path d="M1361.55 1341.28 L1357.20 1341.28 L1357.20 1370.68 L1361.55 1370.68" fill="none" stroke="#c2518c" stroke-width="2.8" stroke-linecap="butt" stroke-linejoin="miter"/><path d="M1371.35 1341.28 L1375.70 1341.28 L1375.70 1370.68 L1371.35 1370.68" fill="none" stroke="#c2518c" stroke-width="2.8" stroke-linecap="butt" stroke-linejoin="miter"/><path d="M1360.49 1352.46 L1363.57 1360.14 L1365.49 1346.38 L1368.69 1365.26 L1371.67 1353.42" fill="none" stroke="#c2518c" stroke-width="2.0" stroke-linecap="butt" stroke-linejoin="miter"/><circle cx="2125.90" cy="930.80" r="11.75" fill="none" stroke="#333" stroke-width="2.4"/><path d="M2134.50 939.40 L2143.70 948.60" fill="none" stroke="#333" stroke-width="2.7" stroke-linecap="butt" stroke-linejoin="miter"/><path d="M2119.50 930.80 L2132.40 930.80" fill="none" stroke="#333" stroke-width="2.2" stroke-linecap="butt" stroke-linejoin="miter"/><path d="M2125.90 924.40 L2125.90 937.30" fill="none" stroke="#333" stroke-width="2.2" stroke-linecap="butt" stroke-linejoin="miter"/><rect x="2172.70" y="921.90" width="24.40" height="24.50" rx="0" fill="none" stroke="#333" stroke-width="3.0"/><rect x="2179.00" y="932.60" width="11.60" height="2.60" rx="0" fill="#333" stroke="none" stroke-width="0"/></svg>
<svg class="b" style="left:1286px;top:1041px" width="933" height="368" viewBox="1286 1041 933 368"><path d="M1803.80 1071.30 L1828.90 1071.30 L1819.90 1084.80 L1819.90 1095.70 L1813.40 1091.10 L1813.40 1085.20 Z" fill="none" stroke="#457961" stroke-width="2.3" stroke-linecap="butt" stroke-linejoin="miter"/><path d="M1802.50 1156.50 L1804.80 1149.00 L1823.80 1130.00 L1830.00 1135.60 L1810.50 1154.80 Z" fill="none" stroke="#457961" stroke-width="2.2" stroke-linecap="butt" stroke-linejoin="miter"/><path d="M1820.70 1133.20 L1823.80 1130.00 L1830.00 1135.60 L1826.30 1138.80 Z" fill="#457961"/><path d="M1808.20 1140.30 L1801.10 1133.80 L1805.20 1130.10 L1811.70 1136.20" fill="none" stroke="#457961" stroke-width="2.2" stroke-linecap="butt" stroke-linejoin="miter"/><path d="M1824 1146.1 Q1828.6 1148 1828.3 1156.2 M1817 1152.3 Q1818 1156.2 1822 1156.2 L1832.8 1156.2" fill="none" stroke="#457961" stroke-width="2.1"/><path d="M1807.60 1194.80 L1825.20 1211.80" fill="none" stroke="#457961" stroke-width="2.3" stroke-linecap="butt" stroke-linejoin="miter"/><path d="M1807.60 1211.80 L1825.20 1194.80" fill="none" stroke="#457961" stroke-width="2.3" stroke-linecap="butt" stroke-linejoin="miter"/><path d="M1442.50 1377.50 L1454.30 1389.00 L1466.10 1377.50" fill="none" stroke="#cfd2d4" stroke-width="3.2" stroke-linecap="butt" stroke-linejoin="miter"/><path d="M2104.40 1373.60 L2096.00 1381.10 L2104.40 1388.60 Z" fill="none" stroke="#a9c4b8" stroke-width="2.2" stroke-linecap="butt" stroke-linejoin="miter"/><path d="M2186.60 1373.60 L2195.00 1381.10 L2186.60 1388.60 Z" fill="none" stroke="#a9c4b8" stroke-width="2.2" stroke-linecap="butt" stroke-linejoin="miter"/></svg>
</body></html>
